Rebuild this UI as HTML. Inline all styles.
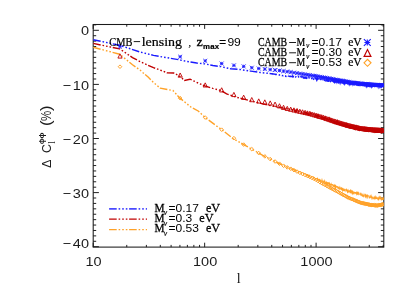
<!DOCTYPE html>
<html><head><meta charset="utf-8"><title>plot</title>
<style>html,body{margin:0;padding:0;background:#fff;overflow:hidden}body{width:415px;height:297px;position:relative;font-family:"Liberation Sans",sans-serif}</style>
</head><body>
<svg width="415" height="297" viewBox="0 0 415 297" style="position:absolute;left:0;top:0;will-change:transform;opacity:0.999">
<rect x="0" y="0" width="415" height="297" fill="#fff"/>
<rect x="93.2" y="24.5" width="290.60" height="222.60" stroke="#1a1a1a" stroke-width="1.05" fill="none"/>
<g stroke="#151515" stroke-width="0.95" fill="none">
<path d="M93.2 246.70h5.7M383.8 246.70h-5.7"/>
<path d="M93.2 241.29h3.0M383.8 241.29h-3.0"/>
<path d="M93.2 235.88h3.0M383.8 235.88h-3.0"/>
<path d="M93.2 230.47h3.0M383.8 230.47h-3.0"/>
<path d="M93.2 225.06h3.0M383.8 225.06h-3.0"/>
<path d="M93.2 219.65h3.0M383.8 219.65h-3.0"/>
<path d="M93.2 214.24h3.0M383.8 214.24h-3.0"/>
<path d="M93.2 208.83h3.0M383.8 208.83h-3.0"/>
<path d="M93.2 203.42h3.0M383.8 203.42h-3.0"/>
<path d="M93.2 198.01h3.0M383.8 198.01h-3.0"/>
<path d="M93.2 192.60h5.7M383.8 192.60h-5.7"/>
<path d="M93.2 187.19h3.0M383.8 187.19h-3.0"/>
<path d="M93.2 181.78h3.0M383.8 181.78h-3.0"/>
<path d="M93.2 176.37h3.0M383.8 176.37h-3.0"/>
<path d="M93.2 170.96h3.0M383.8 170.96h-3.0"/>
<path d="M93.2 165.55h3.0M383.8 165.55h-3.0"/>
<path d="M93.2 160.14h3.0M383.8 160.14h-3.0"/>
<path d="M93.2 154.73h3.0M383.8 154.73h-3.0"/>
<path d="M93.2 149.32h3.0M383.8 149.32h-3.0"/>
<path d="M93.2 143.91h3.0M383.8 143.91h-3.0"/>
<path d="M93.2 138.50h5.7M383.8 138.50h-5.7"/>
<path d="M93.2 133.09h3.0M383.8 133.09h-3.0"/>
<path d="M93.2 127.68h3.0M383.8 127.68h-3.0"/>
<path d="M93.2 122.27h3.0M383.8 122.27h-3.0"/>
<path d="M93.2 116.86h3.0M383.8 116.86h-3.0"/>
<path d="M93.2 111.45h3.0M383.8 111.45h-3.0"/>
<path d="M93.2 106.04h3.0M383.8 106.04h-3.0"/>
<path d="M93.2 100.63h3.0M383.8 100.63h-3.0"/>
<path d="M93.2 95.22h3.0M383.8 95.22h-3.0"/>
<path d="M93.2 89.81h3.0M383.8 89.81h-3.0"/>
<path d="M93.2 84.40h5.7M383.8 84.40h-5.7"/>
<path d="M93.2 78.99h3.0M383.8 78.99h-3.0"/>
<path d="M93.2 73.58h3.0M383.8 73.58h-3.0"/>
<path d="M93.2 68.17h3.0M383.8 68.17h-3.0"/>
<path d="M93.2 62.76h3.0M383.8 62.76h-3.0"/>
<path d="M93.2 57.35h3.0M383.8 57.35h-3.0"/>
<path d="M93.2 51.94h3.0M383.8 51.94h-3.0"/>
<path d="M93.2 46.53h3.0M383.8 46.53h-3.0"/>
<path d="M93.2 41.12h3.0M383.8 41.12h-3.0"/>
<path d="M93.2 35.71h3.0M383.8 35.71h-3.0"/>
<path d="M93.2 30.30h5.7M383.8 30.30h-5.7"/>
<path d="M93.2 24.89h3.0M383.8 24.89h-3.0"/>
<path d="M93.20 247.1v-4.4M93.20 24.5v4.4"/>
<path d="M126.75 247.1v-2.2M126.75 24.5v2.2"/>
<path d="M146.38 247.1v-2.2M146.38 24.5v2.2"/>
<path d="M160.30 247.1v-2.2M160.30 24.5v2.2"/>
<path d="M171.10 247.1v-2.2M171.10 24.5v2.2"/>
<path d="M179.92 247.1v-2.2M179.92 24.5v2.2"/>
<path d="M187.39 247.1v-2.2M187.39 24.5v2.2"/>
<path d="M193.85 247.1v-2.2M193.85 24.5v2.2"/>
<path d="M199.55 247.1v-2.2M199.55 24.5v2.2"/>
<path d="M204.65 247.1v-4.4M204.65 24.5v4.4"/>
<path d="M238.20 247.1v-2.2M238.20 24.5v2.2"/>
<path d="M257.83 247.1v-2.2M257.83 24.5v2.2"/>
<path d="M271.75 247.1v-2.2M271.75 24.5v2.2"/>
<path d="M282.55 247.1v-2.2M282.55 24.5v2.2"/>
<path d="M291.37 247.1v-2.2M291.37 24.5v2.2"/>
<path d="M298.84 247.1v-2.2M298.84 24.5v2.2"/>
<path d="M305.30 247.1v-2.2M305.30 24.5v2.2"/>
<path d="M311.00 247.1v-2.2M311.00 24.5v2.2"/>
<path d="M316.10 247.1v-4.4M316.10 24.5v4.4"/>
<path d="M349.65 247.1v-2.2M349.65 24.5v2.2"/>
<path d="M369.28 247.1v-2.2M369.28 24.5v2.2"/>
<path d="M383.20 247.1v-2.2M383.20 24.5v2.2"/>
</g>
<clipPath id="c"><rect x="93.2" y="24.5" width="290.60" height="222.60"/></clipPath>
<path d="M93.2 39.7 L119.7 45.3 L140.0 52.0 L153.5 55.4 L167.0 57.7 L179.8 59.9 L185.9 61.3 L196.7 63.0 L204.8 63.9 L212.9 65.5 L221.0 66.6 L230.5 68.8 L239.9 69.5 L250.8 71.1 L260.2 72.5 L265.0 73.0 L265.3 73.0 L265.6 73.0 L265.9 73.1 L266.2 73.1 L266.5 73.1 L266.8 73.2 L267.1 73.2 L267.4 73.2 L267.7 73.2 L268.0 73.3 L268.3 73.3 L268.6 73.3 L268.9 73.3 L269.2 73.4 L269.5 73.5 L269.8 73.5 L270.1 73.5 L270.4 73.6 L270.7 73.6 L271.0 73.7 L271.3 73.8 L271.6 73.7 L271.9 73.8 L272.2 73.9 L272.5 73.8 L272.8 73.9 L273.1 74.0 L273.4 74.0 L273.7 74.0 L274.0 74.0 L274.3 74.1 L274.6 74.1 L274.9 74.2 L275.2 74.2 L275.5 74.4 L275.8 74.4 L276.1 74.3 L276.4 74.4 L276.7 74.4 L277.0 74.5 L277.3 74.5 L277.6 74.6 L277.9 74.6 L278.2 74.7 L278.5 74.8 L278.8 74.8 L279.1 75.0 L279.4 74.8 L279.7 75.0 L280.0 75.0 L280.3 75.0 L280.6 75.2 L280.9 75.2 L281.2 75.2 L281.5 75.1 L281.8 75.2 L282.1 75.5 L282.4 75.5 L282.7 75.6 L283.0 75.8 L283.3 75.7 L283.6 75.5 L283.9 75.6 L284.2 75.8 L284.5 75.7 L284.8 76.1 L285.1 76.2 L285.4 76.2 L285.7 76.0 L286.0 76.3 L286.3 75.9 L286.6 76.0 L286.9 76.1 L287.2 76.3 L287.5 76.2 L287.8 76.0 L288.1 76.1 L288.4 76.1 L288.7 76.1 L289.0 76.1 L289.3 76.2 L289.6 76.3 L289.9 76.5 L290.2 76.5 L290.5 76.3 L290.8 76.3 L291.1 76.5 L291.4 76.6 L291.7 76.5 L292.0 76.6 L292.3 76.7 L292.6 76.1 L292.9 76.7 L293.2 76.3 L293.5 76.5 L293.8 76.7 L294.1 76.7 L294.4 76.3 L294.7 76.7 L295.0 76.3 L295.3 76.5 L295.6 76.9 L295.9 76.6 L296.2 76.8 L296.5 76.9 L296.8 77.0 L297.1 77.0 L297.4 76.5 L297.7 76.8 L298.0 76.9 L298.3 76.6 L298.6 77.0 L298.9 77.1 L299.2 77.3 L299.5 77.5 L299.8 76.8 L300.1 76.9 L300.4 77.3 L300.7 76.9 L301.0 77.0 L301.3 77.3 L301.6 77.0 L301.9 77.6 L302.2 77.7 L302.5 77.0 L302.8 77.5 L303.1 77.7 L303.4 77.9 L303.7 77.3 L304.0 77.3 L304.3 77.9 L304.6 78.0 L304.9 77.4 L305.2 77.6 L305.5 77.9 L305.8 78.1 L306.1 77.5 L306.4 78.0 L306.7 78.2 L307.0 77.9 L307.3 77.6 L307.6 77.5 L307.9 77.8 L308.2 78.3 L308.5 77.6 L308.8 77.6 L309.1 78.0 L309.4 77.7 L309.7 77.8 L310.0 77.7 L310.3 78.3 L310.6 78.5 L310.9 78.2 L311.2 78.0 L311.5 78.2 L311.8 78.5 L312.1 79.0 L312.4 79.1 L312.7 78.3 L313.0 78.0 L313.3 79.0 L313.6 79.2 L313.9 78.7 L314.2 79.1 L314.5 79.2 L314.8 79.0 L315.1 79.3 L315.4 78.3 L315.7 78.7 L316.0 78.7 L316.3 78.6 L316.6 79.6 L316.9 78.5 L317.2 79.4 L317.5 78.6 L317.8 79.0 L318.1 79.1 L318.4 78.9 L318.7 79.4 L319.0 79.4 L319.3 79.2 L319.6 79.8 L319.9 79.0 L320.2 79.1 L320.5 79.4 L320.8 79.4 L321.1 79.2 L321.4 80.2 L321.7 80.2 L322.0 79.2 L322.3 79.6 L322.6 79.5 L322.9 79.8 L323.2 79.6 L323.5 80.0 L323.8 80.6 L324.1 79.9 L324.4 80.3 L324.7 80.2 L325.0 80.5 L325.3 79.6 L325.6 80.6 L325.9 80.9 L326.2 80.5 L326.5 80.0 L326.8 80.6 L327.1 80.7 L327.4 80.7 L327.7 80.0 L328.0 81.3 L328.3 81.3 L328.6 80.5 L328.9 80.8 L329.2 80.0 L329.5 81.5 L329.8 81.3 L330.1 81.0 L330.4 81.3 L330.7 80.4 L331.0 80.6 L331.3 80.6 L331.6 81.2 L331.9 80.4 L332.2 81.8 L332.5 81.1 L332.8 81.1 L333.1 80.6 L333.4 81.6 L333.7 81.9 L334.0 81.6 L334.3 81.0 L334.6 81.9 L334.9 80.9 L335.2 82.1 L335.5 81.7 L335.8 81.3 L336.1 81.7 L336.4 81.9 L336.7 81.3 L337.0 82.4 L337.3 81.7 L337.6 82.6 L337.9 82.5 L338.2 81.3 L338.5 82.3 L338.8 81.7 L339.1 82.6 L339.4 82.2 L339.7 82.1 L340.0 82.9 L340.3 81.5 L340.6 82.4 L340.9 82.1 L341.2 81.6 L341.5 82.9 L341.8 82.6 L342.1 83.2 L342.4 82.8 L342.7 82.3 L343.0 83.5 L343.3 82.0 L343.6 81.9 L343.9 83.2 L344.2 82.6 L344.5 82.6 L344.8 83.6 L345.1 82.7 L345.4 83.7 L345.7 83.3 L346.0 82.8 L346.3 82.3 L346.6 82.7 L346.9 84.1 L347.2 83.1 L347.5 82.7 L347.8 83.0 L348.1 84.1 L348.4 82.8 L348.7 84.0 L349.0 82.9 L349.3 84.4 L349.6 83.7 L349.9 82.8 L350.2 84.5 L350.5 83.5 L350.8 84.2 L351.1 83.8 L351.4 83.1 L351.7 83.1 L352.0 83.2 L352.3 83.3 L352.6 83.1 L352.9 83.2 L353.2 84.8 L353.5 83.3 L353.8 84.1 L354.1 83.4 L354.4 83.6 L354.7 84.7 L355.0 85.0 L355.3 84.2 L355.6 83.4 L355.9 85.2 L356.2 83.5 L356.5 84.2 L356.8 84.5 L357.1 85.1 L357.4 85.1 L357.7 84.7 L358.0 84.4 L358.3 85.2 L358.6 85.3 L358.9 85.3 L359.2 85.1 L359.5 84.0 L359.8 84.4 L360.1 84.8 L360.4 84.8 L360.7 85.4 L361.0 84.4 L361.3 85.2 L361.6 84.7 L361.9 85.5 L362.2 84.5 L362.5 85.0 L362.8 84.4 L363.1 84.6 L363.4 85.9 L363.7 84.8 L364.0 85.9 L364.3 85.2 L364.6 84.4 L364.9 85.7 L365.2 84.4 L365.5 85.8 L365.8 84.4 L366.1 85.6 L366.4 84.7 L366.7 85.0 L367.0 86.2 L367.3 85.3 L367.6 85.7 L367.9 85.8 L368.2 84.7 L368.5 86.0 L368.8 86.2 L369.1 84.8 L369.4 85.6 L369.7 85.1 L370.0 85.9 L370.3 84.7 L370.6 85.6 L370.9 86.1 L371.2 86.0 L371.5 84.9 L371.8 86.2 L372.1 85.2 L372.4 86.2 L372.7 85.7 L373.0 85.1 L373.3 86.1 L373.6 86.3 L373.9 86.1 L374.2 86.6 L374.5 85.3 L374.8 85.3 L375.1 85.2 L375.4 85.9 L375.7 85.7 L376.0 85.6 L376.3 85.8 L376.6 85.5 L376.9 85.0 L377.2 85.9 L377.5 85.5 L377.8 85.8 L378.1 86.7 L378.4 85.3 L378.7 86.2 L379.0 86.2 L379.3 85.5 L379.6 85.9 L379.9 86.8 L380.2 85.7 L380.5 86.3 L380.8 86.6 L381.1 85.7 L381.4 86.8 L381.7 86.2 L382.0 86.0 L382.3 86.4 L382.6 85.8 L382.9 86.4 L383.2 85.6 L383.5 86.8 L383.8 86.1" fill="none" stroke="#1a1aff" stroke-width="1.45" stroke-dasharray="7.6 1.9 1.6 2 1.6 2 1.6 1.7" clip-path="url(#c)"/>
<path d="M93.2 43.4 L119.7 48.9 L132.5 57.6 L140.0 61.5 L148.0 65.3 L153.5 67.6 L167.0 72.7 L173.7 73.0 L179.8 76.3 L184.5 80.4 L190.0 79.2 L198.1 83.0 L204.8 85.9 L212.9 88.4 L221.0 90.5 L226.6 93.9 L236.2 97.2 L243.9 99.1 L253.5 101.6 L263.2 104.0 L265.0 104.4 L265.3 104.4 L265.6 104.5 L265.9 104.5 L266.2 104.6 L266.5 104.6 L266.8 104.7 L267.1 104.8 L267.4 104.8 L267.7 104.9 L268.0 105.0 L268.3 105.0 L268.6 105.0 L268.9 105.1 L269.2 105.2 L269.5 105.3 L269.8 105.4 L270.1 105.3 L270.4 105.4 L270.7 105.5 L271.0 105.6 L271.3 105.6 L271.6 105.6 L271.9 105.8 L272.2 105.9 L272.5 105.9 L272.8 106.0 L273.1 106.1 L273.4 106.2 L273.7 105.9 L274.0 106.3 L274.3 106.1 L274.6 106.2 L274.9 106.3 L275.2 106.6 L275.5 106.5 L275.8 106.5 L276.1 106.5 L276.4 106.8 L276.7 106.8 L277.0 106.6 L277.3 106.7 L277.6 106.8 L277.9 106.8 L278.2 107.0 L278.5 106.9 L278.8 107.2 L279.1 107.4 L279.4 107.4 L279.7 107.1 L280.0 107.2 L280.3 107.4 L280.6 107.6 L280.9 107.5 L281.2 107.5 L281.5 107.6 L281.8 107.6 L282.1 108.0 L282.4 108.0 L282.7 107.9 L283.0 108.1 L283.3 108.1 L283.6 108.1 L283.9 108.1 L284.2 108.2 L284.5 108.6 L284.8 108.6 L285.1 108.7 L285.4 108.2 L285.7 108.6 L286.0 108.5 L286.3 108.4 L286.6 108.7 L286.9 108.5 L287.2 108.7 L287.5 109.2 L287.8 109.2 L288.1 109.3 L288.4 108.8 L288.7 109.0 L289.0 108.9 L289.3 109.0 L289.6 109.1 L289.9 109.9 L290.2 109.9 L290.5 109.4 L290.8 109.5 L291.1 110.2 L291.4 109.9 L291.7 109.8 L292.0 110.0 L292.3 109.9 L292.6 110.2 L292.9 110.4 L293.2 110.3 L293.5 110.7 L293.8 110.0 L294.1 110.6 L294.4 111.0 L294.7 110.3 L295.0 110.7 L295.3 110.9 L295.6 110.6 L295.9 111.4 L296.2 110.9 L296.5 111.0 L296.8 111.5 L297.1 110.6 L297.4 111.6 L297.7 110.9 L298.0 111.2 L298.3 111.4 L298.6 111.5 L298.9 111.0 L299.2 111.4 L299.5 111.5 L299.8 112.3 L300.1 112.3 L300.4 112.0 L300.7 112.5 L301.0 112.5 L301.3 111.9 L301.6 111.7 L301.9 112.4 L302.2 112.1 L302.5 111.7 L302.8 113.1 L303.1 113.1 L303.4 112.6 L303.7 112.8 L304.0 112.9 L304.3 113.3 L304.6 112.8 L304.9 113.0 L305.2 112.6 L305.5 112.7 L305.8 113.1 L306.1 112.8 L306.4 112.6 L306.7 113.1 L307.0 113.7 L307.3 113.1 L307.6 114.0 L307.9 113.9 L308.2 113.9 L308.5 114.3 L308.8 113.1 L309.1 113.3 L309.4 114.5 L309.7 114.6 L310.0 113.4 L310.3 114.5 L310.6 113.4 L310.9 113.7 L311.2 113.7 L311.5 114.1 L311.8 114.3 L312.1 115.3 L312.4 114.6 L312.7 114.2 L313.0 114.5 L313.3 114.1 L313.6 114.2 L313.9 115.0 L314.2 115.2 L314.5 114.9 L314.8 115.2 L315.1 114.8 L315.4 115.8 L315.7 115.4 L316.0 115.1 L316.3 115.8 L316.6 115.4 L316.9 115.6 L317.2 115.4 L317.5 116.7 L317.8 115.8 L318.1 117.1 L318.4 116.2 L318.7 115.8 L319.0 117.0 L319.3 117.1 L319.6 117.5 L319.9 116.1 L320.2 117.5 L320.5 117.7 L320.8 116.7 L321.1 117.1 L321.4 117.5 L321.7 116.8 L322.0 118.2 L322.3 117.9 L322.6 118.3 L322.9 117.6 L323.2 117.8 L323.5 117.3 L323.8 117.6 L324.1 118.5 L324.4 119.1 L324.7 117.6 L325.0 117.4 L325.3 117.6 L325.6 118.5 L325.9 119.3 L326.2 118.2 L326.5 118.8 L326.8 119.0 L327.1 119.8 L327.4 118.5 L327.7 118.2 L328.0 119.4 L328.3 119.2 L328.6 119.2 L328.9 120.3 L329.2 120.2 L329.5 119.0 L329.8 120.1 L330.1 120.8 L330.4 121.2 L330.7 119.2 L331.0 121.1 L331.3 119.5 L331.6 121.1 L331.9 121.0 L332.2 121.9 L332.5 121.3 L332.8 120.0 L333.1 121.5 L333.4 120.7 L333.7 122.1 L334.0 120.3 L334.3 121.1 L334.6 122.1 L334.9 120.9 L335.2 122.2 L335.5 122.4 L335.8 122.6 L336.1 123.1 L336.4 122.0 L336.7 121.5 L337.0 121.9 L337.3 122.3 L337.6 121.5 L337.9 123.3 L338.2 121.7 L338.5 121.8 L338.8 124.1 L339.1 123.9 L339.4 122.6 L339.7 122.9 L340.0 124.3 L340.3 123.8 L340.6 123.0 L340.9 123.6 L341.2 124.7 L341.5 122.6 L341.8 125.3 L342.1 124.3 L342.4 123.4 L342.7 125.1 L343.0 123.3 L343.3 124.3 L343.6 124.8 L343.9 124.0 L344.2 125.8 L344.5 125.4 L344.8 124.1 L345.1 124.2 L345.4 124.0 L345.7 125.4 L346.0 124.5 L346.3 125.6 L346.6 126.4 L346.9 126.6 L347.2 124.7 L347.5 125.4 L347.8 125.7 L348.1 125.7 L348.4 125.9 L348.7 126.1 L349.0 126.9 L349.3 125.8 L349.6 126.0 L349.9 126.2 L350.2 125.7 L350.5 127.0 L350.8 126.5 L351.1 127.9 L351.4 127.7 L351.7 126.2 L352.0 126.3 L352.3 127.8 L352.6 127.3 L352.9 126.0 L353.2 127.6 L353.5 127.1 L353.8 128.2 L354.1 128.2 L354.4 128.7 L354.7 128.2 L355.0 128.8 L355.3 127.3 L355.6 127.5 L355.9 126.8 L356.2 129.0 L356.5 127.2 L356.8 128.3 L357.1 128.3 L357.4 129.2 L357.7 128.1 L358.0 127.6 L358.3 128.3 L358.6 127.5 L358.9 128.2 L359.2 129.1 L359.5 127.7 L359.8 130.2 L360.1 129.1 L360.4 128.6 L360.7 130.0 L361.0 128.3 L361.3 128.8 L361.6 130.4 L361.9 128.6 L362.2 129.9 L362.5 128.3 L362.8 129.5 L363.1 129.9 L363.4 128.7 L363.7 129.1 L364.0 129.7 L364.3 129.8 L364.6 128.7 L364.9 129.4 L365.2 131.0 L365.5 129.2 L365.8 130.5 L366.1 129.0 L366.4 129.7 L366.7 129.9 L367.0 130.1 L367.3 130.5 L367.6 130.7 L367.9 130.5 L368.2 130.8 L368.5 131.0 L368.8 129.6 L369.1 131.0 L369.4 130.2 L369.7 129.5 L370.0 129.4 L370.3 130.9 L370.6 130.6 L370.9 129.2 L371.2 130.6 L371.5 129.2 L371.8 130.1 L372.1 130.6 L372.4 130.9 L372.7 129.6 L373.0 129.4 L373.3 130.8 L373.6 131.4 L373.9 131.4 L374.2 130.3 L374.5 130.8 L374.8 131.2 L375.1 131.6 L375.4 130.6 L375.7 131.7 L376.0 130.2 L376.3 130.0 L376.6 130.2 L376.9 131.3 L377.2 131.7 L377.5 130.7 L377.8 131.3 L378.1 129.8 L378.4 130.8 L378.7 130.6 L379.0 130.6 L379.3 130.0 L379.6 131.2 L379.9 131.3 L380.2 131.2 L380.5 131.5 L380.8 130.8 L381.1 131.8 L381.4 131.1 L381.7 131.9 L382.0 130.7 L382.3 131.5 L382.6 130.2 L382.9 129.9 L383.2 132.1 L383.5 130.7 L383.8 129.8" fill="none" stroke="#c00000" stroke-width="1.4" stroke-dasharray="7.6 1.9 1.6 2 1.6 2 1.6 1.7" clip-path="url(#c)"/>
<path d="M93.2 47.3 L119.7 54.2 L132.5 64.8 L140.0 70.0 L143.3 73.0 L148.1 77.0 L153.5 82.5 L160.2 88.2 L172.9 90.5 L179.7 97.9 L190.6 106.8 L198.2 111.0 L205.0 117.4 L215.9 125.5 L221.4 129.4 L232.7 138.3 L242.8 144.1 L250.4 148.4 L257.5 152.4 L265.0 156.5 L265.3 156.6 L265.6 156.8 L265.9 157.0 L266.2 157.1 L266.5 157.2 L266.8 157.4 L267.1 157.5 L267.4 157.7 L267.7 157.9 L268.0 158.0 L268.3 158.1 L268.6 158.3 L268.9 158.5 L269.2 158.6 L269.5 158.7 L269.8 158.8 L270.1 159.1 L270.4 159.2 L270.7 159.3 L271.0 159.5 L271.3 159.5 L271.6 159.9 L271.9 160.0 L272.2 160.2 L272.5 160.3 L272.8 160.4 L273.1 160.6 L273.4 160.6 L273.7 160.9 L274.0 160.9 L274.3 161.1 L274.6 161.4 L274.9 161.4 L275.2 161.7 L275.5 161.7 L275.8 161.8 L276.1 161.9 L276.4 162.0 L276.7 162.3 L277.0 162.6 L277.3 162.5 L277.6 162.7 L277.9 163.1 L278.2 163.0 L278.5 163.4 L278.8 163.5 L279.1 163.5 L279.4 163.7 L279.7 163.6 L280.0 163.9 L280.3 164.2 L280.6 164.1 L280.9 164.2 L281.2 164.3 L281.5 164.5 L281.8 164.7 L282.1 165.1 L282.4 165.1 L282.7 165.3 L283.0 165.3 L283.3 165.5 L283.6 165.7 L283.9 166.0 L284.2 165.8 L284.5 166.1 L284.8 166.4 L285.1 166.7 L285.4 166.4 L285.7 166.6 L286.0 166.8 L286.3 166.7 L286.6 167.1 L286.9 167.4 L287.2 167.1 L287.5 167.3 L287.8 167.2 L288.1 167.6 L288.4 168.0 L288.7 167.8 L289.0 167.7 L289.3 167.9 L289.6 168.2 L289.9 168.5 L290.2 168.3 L290.5 168.4 L290.8 168.8 L291.1 168.4 L291.4 169.1 L291.7 168.9 L292.0 168.9 L292.3 169.4 L292.6 169.1 L292.9 169.2 L293.2 169.4 L293.5 169.8 L293.8 169.5 L294.1 169.9 L294.4 169.9 L294.7 170.3 L295.0 170.1 L295.3 170.7 L295.6 171.0 L295.9 170.6 L296.2 170.7 L296.5 171.1 L296.8 171.3 L297.1 170.9 L297.4 171.5 L297.7 171.8 L298.0 171.9 L298.3 171.7 L298.6 172.1 L298.9 172.0 L299.2 171.8 L299.5 172.0 L299.8 172.4 L300.1 172.5 L300.4 172.8 L300.7 172.9 L301.0 172.5 L301.3 172.8 L301.6 173.3 L301.9 173.1 L302.2 173.0 L302.5 173.8 L302.8 173.4 L303.1 173.4 L303.4 173.7 L303.7 173.6 L304.0 173.7 L304.3 174.3 L304.6 174.5 L304.9 174.2 L305.2 174.1 L305.5 174.5 L305.8 174.6 L306.1 174.7 L306.4 174.6 L306.7 175.3 L307.0 174.8 L307.3 174.8 L307.6 175.6 L307.9 175.8 L308.2 175.4 L308.5 175.4 L308.8 176.0 L309.1 176.5 L309.4 175.8 L309.7 176.3 L310.0 176.1 L310.3 176.8 L310.6 176.6 L310.9 176.6 L311.2 177.1 L311.5 177.0 L311.8 176.7 L312.1 177.1 L312.4 177.9 L312.7 177.9 L313.0 177.6 L313.3 177.9 L313.6 177.4 L313.9 177.9 L314.2 178.6 L314.5 177.8 L314.8 179.0 L315.1 178.9 L315.4 178.8 L315.7 178.5 L316.0 178.3 L316.3 178.7 L316.6 179.4 L316.9 179.1 L317.2 179.7 L317.5 179.0 L317.8 180.0 L318.1 180.2 L318.4 180.1 L318.7 179.5 L319.0 179.6 L319.3 179.5 L319.6 179.6 L319.9 180.7 L320.2 180.5 L320.5 181.0 L320.8 180.4 L321.1 180.6 L321.4 181.6 L321.7 181.8 L322.0 180.6 L322.3 181.7 L322.6 181.5 L322.9 180.8 L323.2 181.9 L323.5 181.5 L323.8 181.7 L324.1 182.8 L324.4 182.6 L324.7 181.6 L325.0 182.7 L325.3 181.8 L325.6 183.3 L325.9 183.0 L326.2 183.1 L326.5 182.3 L326.8 182.5 L327.1 183.3 L327.4 183.2 L327.7 184.1 L328.0 183.3 L328.3 183.6 L328.6 183.3 L328.9 184.0 L329.2 184.9 L329.5 183.9 L329.8 184.9 L330.1 183.9 L330.4 185.3 L330.7 184.8 L331.0 184.2 L331.3 185.5 L331.6 185.8 L331.9 184.6 L332.2 184.7 L332.5 185.1 L332.8 185.7 L333.1 186.6 L333.4 186.5 L333.7 185.7 L334.0 185.3 L334.3 186.4 L334.6 186.5 L334.9 186.0 L335.2 186.8 L335.5 187.7 L335.8 186.2 L336.1 186.7 L336.4 187.8 L336.7 186.6 L337.0 186.7 L337.3 186.9 L337.6 188.1 L337.9 187.0 L338.2 187.1 L338.5 188.2 L338.8 188.6 L339.1 188.7 L339.4 188.2 L339.7 189.3 L340.0 187.9 L340.3 188.6 L340.6 188.5 L340.9 188.9 L341.2 188.3 L341.5 188.3 L341.8 190.1 L342.1 188.8 L342.4 189.3 L342.7 190.2 L343.0 189.1 L343.3 189.3 L343.6 189.7 L343.9 188.8 L344.2 188.8 L344.5 190.1 L344.8 189.7 L345.1 189.2 L345.4 189.7 L345.7 190.6 L346.0 190.8 L346.3 190.4 L346.6 189.9 L346.9 191.2 L347.2 190.1 L347.5 191.2 L347.8 190.1 L348.1 191.8 L348.4 191.5 L348.7 191.1 L349.0 191.0 L349.3 191.4 L349.6 191.6 L349.9 191.5 L350.2 191.9 L350.5 190.8 L350.8 191.5 L351.1 192.3 L351.4 191.7 L351.7 192.9 L352.0 192.1 L352.3 191.7 L352.6 193.0 L352.9 192.1 L353.2 192.4 L353.5 192.7 L353.8 193.2 L354.1 192.0 L354.4 193.5 L354.7 192.9 L355.0 192.6 L355.3 192.6 L355.6 194.0 L355.9 194.0 L356.2 193.3 L356.5 193.0 L356.8 194.4 L357.1 192.5 L357.4 192.7 L357.7 193.6 L358.0 193.9 L358.3 192.9 L358.6 193.3 L358.9 193.2 L359.2 193.6 L359.5 193.6 L359.8 193.5 L360.1 193.6 L360.4 194.2 L360.7 193.8 L361.0 195.2 L361.3 194.5 L361.6 194.0 L361.9 195.2 L362.2 195.6 L362.5 194.8 L362.8 194.2 L363.1 195.5 L363.4 195.8 L363.7 196.2 L364.0 195.9 L364.3 195.8 L364.6 195.4 L364.9 195.2 L365.2 194.9 L365.5 196.5 L365.8 196.0 L366.1 195.6 L366.4 195.3 L366.7 195.7 L367.0 196.7 L367.3 195.7 L367.6 195.4 L367.9 196.1 L368.2 196.1 L368.5 196.9 L368.8 196.7 L369.1 196.6 L369.4 197.6 L369.7 197.4 L370.0 196.1 L370.3 196.4 L370.6 196.8 L370.9 196.2 L371.2 197.6 L371.5 197.7 L371.8 196.8 L372.1 198.1 L372.4 197.4 L372.7 196.9 L373.0 197.7 L373.3 197.9 L373.6 198.0 L373.9 198.6 L374.2 198.6 L374.5 197.6 L374.8 197.7 L375.1 197.0 L375.4 197.8 L375.7 197.4 L376.0 197.4 L376.3 198.8 L376.6 197.3 L376.9 197.5 L377.2 198.6 L377.5 198.4 L377.8 198.2 L378.1 199.0 L378.4 197.9 L378.7 197.8 L379.0 198.5 L379.3 197.7 L379.6 198.9 L379.9 199.4 L380.2 199.2 L380.5 199.4 L380.8 197.8 L381.1 198.5 L381.4 199.5 L381.7 199.4 L382.0 198.9 L382.3 199.1 L382.6 198.3 L382.9 198.3 L383.2 198.0 L383.5 199.7 L383.8 198.5" fill="none" stroke="#ffa228" stroke-width="1.4" stroke-dasharray="7.6 1.9 1.6 2 1.6 2 1.6 1.7" clip-path="url(#c)"/>
<path d="M322.0 181.4 L322.3 181.1 L322.6 181.6 L322.9 181.6 L323.2 181.4 L323.5 181.9 L323.8 182.1 L324.1 182.2 L324.4 182.3 L324.7 182.4 L325.0 182.6 L325.3 182.5 L325.6 183.0 L325.9 182.8 L326.2 182.7 L326.5 183.4 L326.8 183.0 L327.1 183.2 L327.4 183.6 L327.7 183.8 L328.0 183.5 L328.3 183.4 L328.6 184.0 L328.9 184.1 L329.2 184.4 L329.5 184.1 L329.8 184.7 L330.1 184.8 L330.4 185.0 L330.7 185.0 L331.0 185.1 L331.3 185.1 L331.6 185.5 L331.9 185.0 L332.2 185.6 L332.5 185.9 L332.8 186.0 L333.1 185.3 L333.4 185.7 L333.7 186.5 L334.0 186.5 L334.3 185.8 L334.6 186.4 L334.9 186.9 L335.2 187.1 L335.5 186.8 L335.8 186.3 L336.1 186.6 L336.4 186.5 L336.7 186.8 L337.0 186.7 L337.3 187.8 L337.6 187.9 L337.9 187.7 L338.2 188.4 L338.5 187.4 L338.8 187.6 L339.1 188.4 L339.4 188.4 L339.7 187.9 L340.0 189.3 L340.3 188.9 L340.6 188.9 L340.9 188.7 L341.2 189.1 L341.5 188.3 L341.8 188.8 L342.1 189.4 L342.4 189.4 L342.7 189.4 L343.0 188.7 L343.3 189.2 L343.6 190.4 L343.9 190.4 L344.2 190.3 L344.5 189.2 L344.8 189.3 L345.1 189.6 L345.4 190.7 L345.7 189.7 L346.0 189.9 L346.3 190.0 L346.6 190.8 L346.9 190.6 L347.2 191.2 L347.5 190.0 L347.8 190.1 L348.1 191.4 L348.4 190.4 L348.7 191.4 L349.0 191.3 L349.3 190.8 L349.6 190.9 L349.9 191.8 L350.2 190.7 L350.5 192.3 L350.8 190.9 L351.1 191.2 L351.4 192.1 L351.7 191.3 L352.0 192.8 L352.3 192.0 L352.6 191.5 L352.9 191.7 L353.2 192.4 L353.5 193.0 L353.8 192.1 L354.1 192.5 L354.4 192.8 L354.7 193.0 L355.0 193.2 L355.3 192.7 L355.6 192.8 L355.9 193.7 L356.2 193.9 L356.5 193.2 L356.8 194.2 L357.1 193.0 L357.4 194.1 L357.7 194.3 L358.0 193.9 L358.3 194.2 L358.6 193.2 L358.9 194.6 L359.2 194.4 L359.5 194.3 L359.8 194.4 L360.1 193.8 L360.4 195.0 L360.7 194.6 L361.0 194.8 L361.3 194.2 L361.6 195.0 L361.9 194.5 L362.2 195.4 L362.5 194.3 L362.8 194.6 L363.1 194.8 L363.4 195.2 L363.7 196.0 L364.0 194.7 L364.3 195.7 L364.6 194.9 L364.9 195.5 L365.2 195.5 L365.5 195.3 L365.8 195.9 L366.1 195.7 L366.4 195.7 L366.7 196.3 L367.0 195.8 L367.3 197.0 L367.6 195.9 L367.9 197.2 L368.2 195.9 L368.5 197.2 L368.8 195.9 L369.1 195.8 L369.4 196.1 L369.7 197.1 L370.0 196.4 L370.3 196.5 L370.6 197.2 L370.9 196.3 L371.2 197.1 L371.5 197.0 L371.8 196.7 L372.1 197.9 L372.4 197.1 L372.7 197.1 L373.0 197.8 L373.3 198.1 L373.6 197.2 L373.9 197.1 L374.2 198.5 L374.5 197.7 L374.8 197.9 L375.1 197.9 L375.4 198.5 L375.7 197.9 L376.0 198.5 L376.3 198.2 L376.6 197.5 L376.9 198.3 L377.2 198.8 L377.5 198.4 L377.8 198.2 L378.1 197.6 L378.4 198.7 L378.7 198.2 L379.0 198.2 L379.3 198.3 L379.6 198.4 L379.9 198.3 L380.2 198.2 L380.5 198.5 L380.8 197.9 L381.1 198.2 L381.4 198.6 L381.7 199.3 L382.0 198.6 L382.3 198.8 L382.6 199.4 L382.9 199.3 L383.2 199.2 L383.5 199.1 L383.8 199.1" fill="none" stroke="#ffa228" stroke-width="1.1" stroke-opacity="0.65" clip-path="url(#c)"/>
<path d="M325.0 118.1 L325.3 118.2 L325.6 118.2 L325.9 118.3 L326.2 118.9 L326.5 119.0 L326.8 118.5 L327.1 119.4 L327.4 119.1 L327.7 119.3 L328.0 118.9 L328.3 119.9 L328.6 119.1 L328.9 119.4 L329.2 119.8 L329.5 119.9 L329.8 120.1 L330.1 120.7 L330.4 119.6 L330.7 120.6 L331.0 120.3 L331.3 121.0 L331.6 120.9 L331.9 121.2 L332.2 121.4 L332.5 121.4 L332.8 120.5 L333.1 121.2 L333.4 121.7 L333.7 121.8 L334.0 122.2 L334.3 121.4 L334.6 120.8 L334.9 122.2 L335.2 121.5 L335.5 122.3 L335.8 121.2 L336.1 121.9 L336.4 122.5 L336.7 121.6 L337.0 122.1 L337.3 121.8 L337.6 123.5 L337.9 123.3 L338.2 123.1 L338.5 123.0 L338.8 124.1 L339.1 122.6 L339.4 123.7 L339.7 122.4 L340.0 123.7 L340.3 122.8 L340.6 122.4 L340.9 124.7 L341.2 123.3 L341.5 125.1 L341.8 124.5 L342.1 124.5 L342.4 124.6 L342.7 125.6 L343.0 123.7 L343.3 125.8 L343.6 124.1 L343.9 123.6 L344.2 125.9 L344.5 123.8 L344.8 124.9 L345.1 125.9 L345.4 124.6 L345.7 125.8 L346.0 125.7 L346.3 126.0 L346.6 124.6 L346.9 126.2 L347.2 126.6 L347.5 124.9 L347.8 127.1 L348.1 127.2 L348.4 125.7 L348.7 127.4 L349.0 127.4 L349.3 125.3 L349.6 127.1 L349.9 127.7 L350.2 127.4 L350.5 125.7 L350.8 126.5 L351.1 127.0 L351.4 126.5 L351.7 126.6 L352.0 126.0 L352.3 125.8 L352.6 126.7 L352.9 127.0 L353.2 127.5 L353.5 128.6 L353.8 126.4 L354.1 127.1 L354.4 128.6 L354.7 128.5 L355.0 126.7 L355.3 128.3 L355.6 126.8 L355.9 129.1 L356.2 127.4 L356.5 128.4 L356.8 128.1 L357.1 128.3 L357.4 127.6 L357.7 128.0 L358.0 127.9 L358.3 128.9 L358.6 128.4 L358.9 128.9 L359.2 128.9 L359.5 129.3 L359.8 130.2 L360.1 129.1 L360.4 129.2 L360.7 129.4 L361.0 129.3 L361.3 129.0 L361.6 128.6 L361.9 129.4 L362.2 128.7 L362.5 129.8 L362.8 130.4 L363.1 130.2 L363.4 130.2 L363.7 128.8 L364.0 128.3 L364.3 128.8 L364.6 129.8 L364.9 128.7 L365.2 128.6 L365.5 131.0 L365.8 129.4 L366.1 128.6 L366.4 129.8 L366.7 130.4 L367.0 129.8 L367.3 128.9 L367.6 130.0 L367.9 128.9 L368.2 130.6 L368.5 131.2 L368.8 128.9 L369.1 130.3 L369.4 131.0 L369.7 130.5 L370.0 129.3 L370.3 129.1 L370.6 130.2 L370.9 129.1 L371.2 131.2 L371.5 130.4 L371.8 129.9 L372.1 131.1 L372.4 129.7 L372.7 130.5 L373.0 130.5 L373.3 129.5 L373.6 131.4 L373.9 131.1 L374.2 129.8 L374.5 130.5 L374.8 130.2 L375.1 131.8 L375.4 131.1 L375.7 131.8 L376.0 131.4 L376.3 131.5 L376.6 130.2 L376.9 131.6 L377.2 130.3 L377.5 131.6 L377.8 131.3 L378.1 130.8 L378.4 129.9 L378.7 131.1 L379.0 131.1 L379.3 131.3 L379.6 129.7 L379.9 130.2 L380.2 131.0 L380.5 131.8 L380.8 130.2 L381.1 131.9 L381.4 132.1 L381.7 129.8 L382.0 131.5 L382.3 130.7 L382.6 130.0 L382.9 130.2 L383.2 130.6 L383.5 129.7 L383.8 131.5" fill="none" stroke="#c00000" stroke-width="1.1" stroke-opacity="0.6" clip-path="url(#c)"/>
<path d="M330.0 80.8 L330.3 80.8 L330.6 81.1 L330.9 81.2 L331.2 80.9 L331.5 80.9 L331.8 81.1 L332.1 81.0 L332.4 81.4 L332.7 81.0 L333.0 80.9 L333.3 80.9 L333.6 81.1 L333.9 81.0 L334.2 81.7 L334.5 81.6 L334.8 81.6 L335.1 81.9 L335.4 81.7 L335.7 81.8 L336.0 81.3 L336.3 81.5 L336.6 81.9 L336.9 82.1 L337.2 81.6 L337.5 81.8 L337.8 81.7 L338.1 81.7 L338.4 82.1 L338.7 82.5 L339.0 82.7 L339.3 82.2 L339.6 81.6 L339.9 81.9 L340.2 82.5 L340.5 82.9 L340.8 81.9 L341.1 82.8 L341.4 83.0 L341.7 81.9 L342.0 83.1 L342.3 82.7 L342.6 83.1 L342.9 82.9 L343.2 83.0 L343.5 83.3 L343.8 83.2 L344.1 82.7 L344.4 82.7 L344.7 83.7 L345.0 82.6 L345.3 82.8 L345.6 82.4 L345.9 82.8 L346.2 83.3 L346.5 82.6 L346.8 83.1 L347.1 83.4 L347.4 83.1 L347.7 83.8 L348.0 83.4 L348.3 83.1 L348.6 83.9 L348.9 83.6 L349.2 83.5 L349.5 83.0 L349.8 84.5 L350.1 83.1 L350.4 83.5 L350.7 83.9 L351.0 84.5 L351.3 83.4 L351.6 83.1 L351.9 84.2 L352.2 84.7 L352.5 83.8 L352.8 84.9 L353.1 83.7 L353.4 84.7 L353.7 83.2 L354.0 84.4 L354.3 84.8 L354.6 83.8 L354.9 84.8 L355.2 84.4 L355.5 83.9 L355.8 83.5 L356.1 84.6 L356.4 84.1 L356.7 84.5 L357.0 83.9 L357.3 83.6 L357.6 83.8 L357.9 84.8 L358.2 83.9 L358.5 84.2 L358.8 84.8 L359.1 84.3 L359.4 84.7 L359.7 84.6 L360.0 85.3 L360.3 84.6 L360.6 84.4 L360.9 85.7 L361.2 84.3 L361.5 85.2 L361.8 85.2 L362.1 84.7 L362.4 85.5 L362.7 85.5 L363.0 85.1 L363.3 84.8 L363.6 84.4 L363.9 85.8 L364.2 86.0 L364.5 84.8 L364.8 84.9 L365.1 85.5 L365.4 85.7 L365.7 85.9 L366.0 85.8 L366.3 85.6 L366.6 85.5 L366.9 84.5 L367.2 85.3 L367.5 85.7 L367.8 85.0 L368.1 84.9 L368.4 85.3 L368.7 85.5 L369.0 84.6 L369.3 85.9 L369.6 85.9 L369.9 85.0 L370.2 85.1 L370.5 85.0 L370.8 85.4 L371.1 86.4 L371.4 85.4 L371.7 86.4 L372.0 85.1 L372.3 85.2 L372.6 85.7 L372.9 85.1 L373.2 85.0 L373.5 86.0 L373.8 85.5 L374.1 86.1 L374.4 85.3 L374.7 85.4 L375.0 86.5 L375.3 86.0 L375.6 85.2 L375.9 85.7 L376.2 85.2 L376.5 85.1 L376.8 86.0 L377.1 85.2 L377.4 85.4 L377.7 85.1 L378.0 85.2 L378.3 85.8 L378.6 85.3 L378.9 85.6 L379.2 85.8 L379.5 85.4 L379.8 85.3 L380.1 85.3 L380.4 86.7 L380.7 85.7 L381.0 85.9 L381.3 86.4 L381.6 86.5 L381.9 86.3 L382.2 86.7 L382.5 86.0 L382.8 85.4 L383.1 86.2 L383.4 85.9 L383.7 86.6" fill="none" stroke="#1a1aff" stroke-width="1.1" stroke-opacity="0.6" clip-path="url(#c)"/>
<g clip-path="url(#c)">
<path d="M118.33 46.60h3.36M120.01 44.92v3.36M118.01 44.61l3.99 3.99M118.01 48.60l3.99 -3.99" stroke="#1a1aff" stroke-width="0.85" fill="none"/>
<path d="M178.49 56.74h3.36M180.17 55.06v3.36M178.17 54.75l3.99 3.99M178.17 58.74l3.99 -3.99" stroke="#1a1aff" stroke-width="0.85" fill="none"/>
<path d="M203.55 60.85h3.36M205.23 59.17v3.36M203.23 58.86l3.99 3.99M203.23 62.85l3.99 -3.99" stroke="#1a1aff" stroke-width="0.85" fill="none"/>
<path d="M219.98 63.57h3.36M221.66 61.89v3.36M219.66 61.57l3.99 3.99M219.66 65.56l3.99 -3.99" stroke="#1a1aff" stroke-width="0.85" fill="none"/>
<path d="M232.22 65.37h3.36M233.90 63.69v3.36M231.91 63.38l3.99 3.99M231.91 67.37l3.99 -3.99" stroke="#1a1aff" stroke-width="0.85" fill="none"/>
<path d="M241.98 66.41h3.36M243.66 64.73v3.36M241.67 64.42l3.99 3.99M241.67 68.41l3.99 -3.99" stroke="#1a1aff" stroke-width="0.85" fill="none"/>
<path d="M250.10 67.72h3.36M251.78 66.04v3.36M249.79 65.72l3.99 3.99M249.79 69.71l3.99 -3.99" stroke="#1a1aff" stroke-width="0.85" fill="none"/>
<path d="M257.06 68.51h3.36M258.74 66.83v3.36M256.74 66.52l3.99 3.99M256.74 70.51l3.99 -3.99" stroke="#1a1aff" stroke-width="0.85" fill="none"/>
<path d="M263.13 69.08h3.36M264.81 67.40v3.36M262.82 67.09l3.99 3.99M262.82 71.08l3.99 -3.99" stroke="#1a1aff" stroke-width="0.85" fill="none"/>
<path d="M268.53 69.60h3.36M270.21 67.92v3.36M268.22 67.61l3.99 3.99M268.22 71.60l3.99 -3.99" stroke="#1a1aff" stroke-width="0.85" fill="none"/>
<path d="M273.39 70.04h3.36M275.07 68.36v3.36M273.07 68.05l3.99 3.99M273.07 72.04l3.99 -3.99" stroke="#1a1aff" stroke-width="0.85" fill="none"/>
<path d="M277.80 70.55h3.36M279.48 68.87v3.36M277.49 68.55l3.99 3.99M277.49 72.54l3.99 -3.99" stroke="#1a1aff" stroke-width="0.85" fill="none"/>
<path d="M281.85 71.14h3.36M283.53 69.46v3.36M281.53 69.15l3.99 3.99M281.53 73.14l3.99 -3.99" stroke="#1a1aff" stroke-width="0.85" fill="none"/>
<path d="M285.58 71.65h3.36M287.26 69.97v3.36M285.27 69.66l3.99 3.99M285.27 73.65l3.99 -3.99" stroke="#1a1aff" stroke-width="0.85" fill="none"/>
<path d="M289.05 72.12h3.36M290.73 70.44v3.36M288.73 70.13l3.99 3.99M288.73 74.12l3.99 -3.99" stroke="#1a1aff" stroke-width="0.85" fill="none"/>
<path d="M292.28 72.67h3.36M293.96 70.99v3.36M291.96 70.67l3.99 3.99M291.96 74.66l3.99 -3.99" stroke="#1a1aff" stroke-width="0.85" fill="none"/>
<path d="M295.31 73.16h3.36M296.99 71.48v3.36M294.99 71.17l3.99 3.99M294.99 75.16l3.99 -3.99" stroke="#1a1aff" stroke-width="0.85" fill="none"/>
<path d="M298.16 73.61h3.36M299.84 71.93v3.36M297.85 71.62l3.99 3.99M297.85 75.61l3.99 -3.99" stroke="#1a1aff" stroke-width="0.85" fill="none"/>
<path d="M300.86 74.03h3.36M302.54 72.35v3.36M300.54 72.04l3.99 3.99M300.54 76.03l3.99 -3.99" stroke="#1a1aff" stroke-width="0.85" fill="none"/>
<path d="M303.41 74.43h3.36M305.09 72.75v3.36M303.09 72.44l3.99 3.99M303.09 76.43l3.99 -3.99" stroke="#1a1aff" stroke-width="0.85" fill="none"/>
<path d="M305.83 74.81h3.36M307.51 73.13v3.36M305.52 72.82l3.99 3.99M305.52 76.81l3.99 -3.99" stroke="#1a1aff" stroke-width="0.85" fill="none"/>
<path d="M308.14 75.17h3.36M309.82 73.49v3.36M307.82 73.18l3.99 3.99M307.82 77.17l3.99 -3.99" stroke="#1a1aff" stroke-width="0.85" fill="none"/>
<path d="M310.34 75.52h3.36M312.02 73.84v3.36M310.03 73.53l3.99 3.99M310.03 77.52l3.99 -3.99" stroke="#1a1aff" stroke-width="0.85" fill="none"/>
<path d="M312.45 75.85h3.36M314.13 74.17v3.36M312.13 73.86l3.99 3.99M312.13 77.85l3.99 -3.99" stroke="#1a1aff" stroke-width="0.85" fill="none"/>
<path d="M314.47 76.17h3.36M316.15 74.49v3.36M314.15 74.17l3.99 3.99M314.15 78.16l3.99 -3.99" stroke="#1a1aff" stroke-width="0.85" fill="none"/>
<path d="M316.41 76.49h3.36M318.09 74.81v3.36M316.09 74.50l3.99 3.99M316.09 78.49l3.99 -3.99" stroke="#1a1aff" stroke-width="0.85" fill="none"/>
<path d="M318.27 76.82h3.36M319.95 75.14v3.36M317.96 74.83l3.99 3.99M317.96 78.82l3.99 -3.99" stroke="#1a1aff" stroke-width="0.85" fill="none"/>
<path d="M320.06 77.14h3.36M321.74 75.46v3.36M319.75 75.14l3.99 3.99M319.75 79.13l3.99 -3.99" stroke="#1a1aff" stroke-width="0.85" fill="none"/>
<path d="M321.80 77.45h3.36M323.48 75.77v3.36M321.48 75.45l3.99 3.99M321.48 79.44l3.99 -3.99" stroke="#1a1aff" stroke-width="0.85" fill="none"/>
<path d="M323.47 77.74h3.36M325.15 76.06v3.36M323.15 75.75l3.99 3.99M323.15 79.74l3.99 -3.99" stroke="#1a1aff" stroke-width="0.85" fill="none"/>
<path d="M325.08 78.03h3.36M326.76 76.35v3.36M324.77 76.03l3.99 3.99M324.77 80.02l3.99 -3.99" stroke="#1a1aff" stroke-width="0.85" fill="none"/>
<path d="M326.64 78.30h3.36M328.32 76.62v3.36M326.33 76.31l3.99 3.99M326.33 80.30l3.99 -3.99" stroke="#1a1aff" stroke-width="0.85" fill="none"/>
<path d="M328.16 78.57h3.36M329.84 76.89v3.36M327.84 76.58l3.99 3.99M327.84 80.57l3.99 -3.99" stroke="#1a1aff" stroke-width="0.85" fill="none"/>
<path d="M329.63 78.86h3.36M331.31 77.18v3.36M329.31 76.87l3.99 3.99M329.31 80.86l3.99 -3.99" stroke="#1a1aff" stroke-width="0.85" fill="none"/>
<path d="M331.05 79.15h3.36M332.73 77.47v3.36M330.74 77.15l3.99 3.99M330.74 81.14l3.99 -3.99" stroke="#1a1aff" stroke-width="0.85" fill="none"/>
<path d="M332.43 79.42h3.36M334.11 77.74v3.36M332.12 77.43l3.99 3.99M332.12 81.42l3.99 -3.99" stroke="#1a1aff" stroke-width="0.85" fill="none"/>
<path d="M333.78 79.69h3.36M335.46 78.01v3.36M333.47 77.70l3.99 3.99M333.47 81.69l3.99 -3.99" stroke="#1a1aff" stroke-width="0.85" fill="none"/>
<path d="M335.09 79.93h3.36M336.77 78.25v3.36M334.77 77.94l3.99 3.99M334.77 81.93l3.99 -3.99" stroke="#1a1aff" stroke-width="0.85" fill="none"/>
<path d="M336.36 80.15h3.36M338.04 78.47v3.36M336.05 78.15l3.99 3.99M336.05 82.14l3.99 -3.99" stroke="#1a1aff" stroke-width="0.85" fill="none"/>
<path d="M337.61 80.36h3.36M339.29 78.68v3.36M337.29 78.36l3.99 3.99M337.29 82.35l3.99 -3.99" stroke="#1a1aff" stroke-width="0.85" fill="none"/>
<path d="M338.82 80.56h3.36M340.50 78.88v3.36M338.50 78.57l3.99 3.99M338.50 82.56l3.99 -3.99" stroke="#1a1aff" stroke-width="0.85" fill="none"/>
<path d="M340.00 80.77h3.36M341.68 79.09v3.36M339.68 78.77l3.99 3.99M339.68 82.76l3.99 -3.99" stroke="#1a1aff" stroke-width="0.85" fill="none"/>
<path d="M341.15 80.96h3.36M342.83 79.28v3.36M340.84 78.97l3.99 3.99M340.84 82.96l3.99 -3.99" stroke="#1a1aff" stroke-width="0.85" fill="none"/>
<path d="M342.28 81.15h3.36M343.96 79.47v3.36M341.96 79.16l3.99 3.99M341.96 83.15l3.99 -3.99" stroke="#1a1aff" stroke-width="0.85" fill="none"/>
<path d="M343.38 81.34h3.36M345.06 79.66v3.36M343.06 79.34l3.99 3.99M343.06 83.33l3.99 -3.99" stroke="#1a1aff" stroke-width="0.85" fill="none"/>
<path d="M344.45 81.53h3.36M346.13 79.85v3.36M344.14 79.54l3.99 3.99M344.14 83.53l3.99 -3.99" stroke="#1a1aff" stroke-width="0.85" fill="none"/>
<path d="M345.51 81.77h3.36M347.19 80.09v3.36M345.19 79.78l3.99 3.99M345.19 83.77l3.99 -3.99" stroke="#1a1aff" stroke-width="0.85" fill="none"/>
<path d="M346.54 82.01h3.36M348.22 80.33v3.36M346.22 80.01l3.99 3.99M346.22 84.00l3.99 -3.99" stroke="#1a1aff" stroke-width="0.85" fill="none"/>
<path d="M347.55 82.24h3.36M349.23 80.56v3.36M347.23 80.24l3.99 3.99M347.23 84.23l3.99 -3.99" stroke="#1a1aff" stroke-width="0.85" fill="none"/>
<path d="M348.54 82.39h3.36M350.22 80.71v3.36M348.22 80.40l3.99 3.99M348.22 84.39l3.99 -3.99" stroke="#1a1aff" stroke-width="0.85" fill="none"/>
<path d="M349.50 82.51h3.36M351.18 80.83v3.36M349.19 80.52l3.99 3.99M349.19 84.51l3.99 -3.99" stroke="#1a1aff" stroke-width="0.85" fill="none"/>
<path d="M350.45 82.63h3.36M352.13 80.95v3.36M350.14 80.64l3.99 3.99M350.14 84.63l3.99 -3.99" stroke="#1a1aff" stroke-width="0.85" fill="none"/>
<path d="M351.38 82.75h3.36M353.06 81.07v3.36M351.07 80.75l3.99 3.99M351.07 84.74l3.99 -3.99" stroke="#1a1aff" stroke-width="0.85" fill="none"/>
<path d="M352.30 82.86h3.36M353.98 81.18v3.36M351.98 80.87l3.99 3.99M351.98 84.86l3.99 -3.99" stroke="#1a1aff" stroke-width="0.85" fill="none"/>
<path d="M353.20 82.98h3.36M354.88 81.30v3.36M352.88 80.98l3.99 3.99M352.88 84.97l3.99 -3.99" stroke="#1a1aff" stroke-width="0.85" fill="none"/>
<path d="M354.08 83.09h3.36M355.76 81.41v3.36M353.76 81.09l3.99 3.99M353.76 85.08l3.99 -3.99" stroke="#1a1aff" stroke-width="0.85" fill="none"/>
<path d="M354.94 83.20h3.36M356.62 81.52v3.36M354.63 81.20l3.99 3.99M354.63 85.19l3.99 -3.99" stroke="#1a1aff" stroke-width="0.85" fill="none"/>
<path d="M355.79 83.30h3.36M357.47 81.62v3.36M355.47 81.31l3.99 3.99M355.47 85.30l3.99 -3.99" stroke="#1a1aff" stroke-width="0.85" fill="none"/>
<path d="M356.62 83.41h3.36M358.30 81.73v3.36M356.31 81.41l3.99 3.99M356.31 85.40l3.99 -3.99" stroke="#1a1aff" stroke-width="0.85" fill="none"/>
<path d="M357.45 83.51h3.36M359.13 81.83v3.36M357.13 81.52l3.99 3.99M357.13 85.51l3.99 -3.99" stroke="#1a1aff" stroke-width="0.85" fill="none"/>
<path d="M358.25 83.61h3.36M359.93 81.93v3.36M357.94 81.62l3.99 3.99M357.94 85.61l3.99 -3.99" stroke="#1a1aff" stroke-width="0.85" fill="none"/>
<path d="M359.05 83.71h3.36M360.73 82.03v3.36M358.73 81.72l3.99 3.99M358.73 85.71l3.99 -3.99" stroke="#1a1aff" stroke-width="0.85" fill="none"/>
<path d="M359.83 83.81h3.36M361.51 82.13v3.36M359.51 81.82l3.99 3.99M359.51 85.81l3.99 -3.99" stroke="#1a1aff" stroke-width="0.85" fill="none"/>
<path d="M360.60 83.91h3.36M362.28 82.23v3.36M360.28 81.91l3.99 3.99M360.28 85.90l3.99 -3.99" stroke="#1a1aff" stroke-width="0.85" fill="none"/>
<path d="M361.35 84.00h3.36M363.03 82.32v3.36M361.04 82.01l3.99 3.99M361.04 86.00l3.99 -3.99" stroke="#1a1aff" stroke-width="0.85" fill="none"/>
<path d="M362.10 84.06h3.36M363.78 82.38v3.36M361.78 82.06l3.99 3.99M361.78 86.05l3.99 -3.99" stroke="#1a1aff" stroke-width="0.85" fill="none"/>
<path d="M362.83 84.11h3.36M364.51 82.43v3.36M362.52 82.12l3.99 3.99M362.52 86.11l3.99 -3.99" stroke="#1a1aff" stroke-width="0.85" fill="none"/>
<path d="M363.55 84.17h3.36M365.23 82.49v3.36M363.24 82.17l3.99 3.99M363.24 86.16l3.99 -3.99" stroke="#1a1aff" stroke-width="0.85" fill="none"/>
<path d="M364.27 84.22h3.36M365.95 82.54v3.36M363.95 82.22l3.99 3.99M363.95 86.21l3.99 -3.99" stroke="#1a1aff" stroke-width="0.85" fill="none"/>
<path d="M364.97 84.27h3.36M366.65 82.59v3.36M364.65 82.28l3.99 3.99M364.65 86.27l3.99 -3.99" stroke="#1a1aff" stroke-width="0.85" fill="none"/>
<path d="M365.66 84.32h3.36M367.34 82.64v3.36M365.34 82.33l3.99 3.99M365.34 86.32l3.99 -3.99" stroke="#1a1aff" stroke-width="0.85" fill="none"/>
<path d="M366.34 84.37h3.36M368.02 82.69v3.36M366.03 82.38l3.99 3.99M366.03 86.37l3.99 -3.99" stroke="#1a1aff" stroke-width="0.85" fill="none"/>
<path d="M367.01 84.42h3.36M368.69 82.74v3.36M366.70 82.43l3.99 3.99M366.70 86.42l3.99 -3.99" stroke="#1a1aff" stroke-width="0.85" fill="none"/>
<path d="M367.68 84.47h3.36M369.36 82.79v3.36M367.36 82.48l3.99 3.99M367.36 86.47l3.99 -3.99" stroke="#1a1aff" stroke-width="0.85" fill="none"/>
<path d="M368.33 84.52h3.36M370.01 82.84v3.36M368.02 82.52l3.99 3.99M368.02 86.51l3.99 -3.99" stroke="#1a1aff" stroke-width="0.85" fill="none"/>
<path d="M368.98 84.57h3.36M370.66 82.89v3.36M368.66 82.57l3.99 3.99M368.66 86.56l3.99 -3.99" stroke="#1a1aff" stroke-width="0.85" fill="none"/>
<path d="M369.61 84.61h3.36M371.29 82.93v3.36M369.30 82.62l3.99 3.99M369.30 86.61l3.99 -3.99" stroke="#1a1aff" stroke-width="0.85" fill="none"/>
<path d="M370.24 84.66h3.36M371.92 82.98v3.36M369.93 82.67l3.99 3.99M369.93 86.66l3.99 -3.99" stroke="#1a1aff" stroke-width="0.85" fill="none"/>
<path d="M370.86 84.71h3.36M372.54 83.03v3.36M370.55 82.71l3.99 3.99M370.55 86.70l3.99 -3.99" stroke="#1a1aff" stroke-width="0.85" fill="none"/>
<path d="M371.48 84.75h3.36M373.16 83.07v3.36M371.16 82.76l3.99 3.99M371.16 86.75l3.99 -3.99" stroke="#1a1aff" stroke-width="0.85" fill="none"/>
<path d="M372.08 84.80h3.36M373.76 83.12v3.36M371.77 82.80l3.99 3.99M371.77 86.79l3.99 -3.99" stroke="#1a1aff" stroke-width="0.85" fill="none"/>
<path d="M372.68 84.84h3.36M374.36 83.16v3.36M372.36 82.85l3.99 3.99M372.36 86.84l3.99 -3.99" stroke="#1a1aff" stroke-width="0.85" fill="none"/>
<path d="M373.27 84.89h3.36M374.95 83.21v3.36M372.96 82.89l3.99 3.99M372.96 86.88l3.99 -3.99" stroke="#1a1aff" stroke-width="0.85" fill="none"/>
<path d="M373.85 84.93h3.36M375.53 83.25v3.36M373.54 82.93l3.99 3.99M373.54 86.92l3.99 -3.99" stroke="#1a1aff" stroke-width="0.85" fill="none"/>
<path d="M374.43 84.97h3.36M376.11 83.29v3.36M374.12 82.98l3.99 3.99M374.12 86.97l3.99 -3.99" stroke="#1a1aff" stroke-width="0.85" fill="none"/>
<path d="M375.00 85.01h3.36M376.68 83.33v3.36M374.68 83.01l3.99 3.99M374.68 87.00l3.99 -3.99" stroke="#1a1aff" stroke-width="0.85" fill="none"/>
<path d="M375.56 85.02h3.36M377.24 83.34v3.36M375.25 83.03l3.99 3.99M375.25 87.02l3.99 -3.99" stroke="#1a1aff" stroke-width="0.85" fill="none"/>
<path d="M376.12 85.04h3.36M377.80 83.36v3.36M375.80 83.04l3.99 3.99M375.80 87.03l3.99 -3.99" stroke="#1a1aff" stroke-width="0.85" fill="none"/>
<path d="M376.67 85.05h3.36M378.35 83.37v3.36M376.35 83.06l3.99 3.99M376.35 87.05l3.99 -3.99" stroke="#1a1aff" stroke-width="0.85" fill="none"/>
<path d="M377.21 85.07h3.36M378.89 83.39v3.36M376.90 83.07l3.99 3.99M376.90 87.06l3.99 -3.99" stroke="#1a1aff" stroke-width="0.85" fill="none"/>
<path d="M377.75 85.08h3.36M379.43 83.40v3.36M377.44 83.09l3.99 3.99M377.44 87.08l3.99 -3.99" stroke="#1a1aff" stroke-width="0.85" fill="none"/>
<path d="M378.28 85.10h3.36M379.96 83.42v3.36M377.97 83.10l3.99 3.99M377.97 87.09l3.99 -3.99" stroke="#1a1aff" stroke-width="0.85" fill="none"/>
<path d="M378.81 85.11h3.36M380.49 83.43v3.36M378.49 83.12l3.99 3.99M378.49 87.11l3.99 -3.99" stroke="#1a1aff" stroke-width="0.85" fill="none"/>
<path d="M379.33 85.13h3.36M381.01 83.45v3.36M379.02 83.13l3.99 3.99M379.02 87.12l3.99 -3.99" stroke="#1a1aff" stroke-width="0.85" fill="none"/>
<path d="M379.85 85.14h3.36M381.53 83.46v3.36M379.53 83.15l3.99 3.99M379.53 87.14l3.99 -3.99" stroke="#1a1aff" stroke-width="0.85" fill="none"/>
<path d="M380.35 85.16h3.36M382.03 83.48v3.36M380.04 83.16l3.99 3.99M380.04 87.15l3.99 -3.99" stroke="#1a1aff" stroke-width="0.85" fill="none"/>
<path d="M380.86 85.17h3.36M382.54 83.49v3.36M380.54 83.18l3.99 3.99M380.54 87.17l3.99 -3.99" stroke="#1a1aff" stroke-width="0.85" fill="none"/>
<path d="M381.36 85.18h3.36M383.04 83.50v3.36M381.04 83.19l3.99 3.99M381.04 87.18l3.99 -3.99" stroke="#1a1aff" stroke-width="0.85" fill="none"/>
<path d="M117.91 58.10h4.20L120.01 53.90Z" stroke="#c00000" stroke-width="0.9" fill="none"/>
<path d="M178.07 77.17h4.20L180.17 72.97Z" stroke="#c00000" stroke-width="0.9" fill="none"/>
<path d="M203.13 87.03h4.20L205.23 82.83Z" stroke="#c00000" stroke-width="0.9" fill="none"/>
<path d="M219.56 91.95h4.20L221.66 87.75Z" stroke="#c00000" stroke-width="0.9" fill="none"/>
<path d="M231.80 96.58h4.20L233.90 92.38Z" stroke="#c00000" stroke-width="0.9" fill="none"/>
<path d="M241.56 99.34h4.20L243.66 95.14Z" stroke="#c00000" stroke-width="0.9" fill="none"/>
<path d="M249.68 101.73h4.20L251.78 97.53Z" stroke="#c00000" stroke-width="0.9" fill="none"/>
<path d="M256.64 103.05h4.20L258.74 98.85Z" stroke="#c00000" stroke-width="0.9" fill="none"/>
<path d="M262.71 104.04h4.20L264.81 99.84Z" stroke="#c00000" stroke-width="0.9" fill="none"/>
<path d="M268.11 105.08h4.20L270.21 100.88Z" stroke="#c00000" stroke-width="0.9" fill="none"/>
<path d="M272.97 106.28h4.20L275.07 102.08Z" stroke="#c00000" stroke-width="0.9" fill="none"/>
<path d="M277.38 107.93h4.20L279.48 103.73Z" stroke="#c00000" stroke-width="0.9" fill="none"/>
<path d="M281.43 109.45h4.20L283.53 105.25Z" stroke="#c00000" stroke-width="0.9" fill="none"/>
<path d="M285.16 110.52h4.20L287.26 106.32Z" stroke="#c00000" stroke-width="0.9" fill="none"/>
<path d="M288.63 111.31h4.20L290.73 107.11Z" stroke="#c00000" stroke-width="0.9" fill="none"/>
<path d="M291.86 112.05h4.20L293.96 107.85Z" stroke="#c00000" stroke-width="0.9" fill="none"/>
<path d="M294.89 112.74h4.20L296.99 108.54Z" stroke="#c00000" stroke-width="0.9" fill="none"/>
<path d="M297.74 113.38h4.20L299.84 109.18Z" stroke="#c00000" stroke-width="0.9" fill="none"/>
<path d="M300.44 113.97h4.20L302.54 109.77Z" stroke="#c00000" stroke-width="0.9" fill="none"/>
<path d="M302.99 114.54h4.20L305.09 110.34Z" stroke="#c00000" stroke-width="0.9" fill="none"/>
<path d="M305.41 115.08h4.20L307.51 110.88Z" stroke="#c00000" stroke-width="0.9" fill="none"/>
<path d="M307.72 115.59h4.20L309.82 111.39Z" stroke="#c00000" stroke-width="0.9" fill="none"/>
<path d="M309.92 116.19h4.20L312.02 111.99Z" stroke="#c00000" stroke-width="0.9" fill="none"/>
<path d="M312.03 116.79h4.20L314.13 112.59Z" stroke="#c00000" stroke-width="0.9" fill="none"/>
<path d="M314.05 117.36h4.20L316.15 113.16Z" stroke="#c00000" stroke-width="0.9" fill="none"/>
<path d="M315.99 117.91h4.20L318.09 113.71Z" stroke="#c00000" stroke-width="0.9" fill="none"/>
<path d="M317.85 118.44h4.20L319.95 114.24Z" stroke="#c00000" stroke-width="0.9" fill="none"/>
<path d="M319.64 118.94h4.20L321.74 114.74Z" stroke="#c00000" stroke-width="0.9" fill="none"/>
<path d="M321.38 119.46h4.20L323.48 115.26Z" stroke="#c00000" stroke-width="0.9" fill="none"/>
<path d="M323.05 120.03h4.20L325.15 115.83Z" stroke="#c00000" stroke-width="0.9" fill="none"/>
<path d="M324.66 120.58h4.20L326.76 116.38Z" stroke="#c00000" stroke-width="0.9" fill="none"/>
<path d="M326.22 121.12h4.20L328.32 116.92Z" stroke="#c00000" stroke-width="0.9" fill="none"/>
<path d="M327.74 121.63h4.20L329.84 117.43Z" stroke="#c00000" stroke-width="0.9" fill="none"/>
<path d="M329.21 122.13h4.20L331.31 117.93Z" stroke="#c00000" stroke-width="0.9" fill="none"/>
<path d="M330.63 122.62h4.20L332.73 118.42Z" stroke="#c00000" stroke-width="0.9" fill="none"/>
<path d="M332.01 123.09h4.20L334.11 118.89Z" stroke="#c00000" stroke-width="0.9" fill="none"/>
<path d="M333.36 123.55h4.20L335.46 119.35Z" stroke="#c00000" stroke-width="0.9" fill="none"/>
<path d="M334.67 123.95h4.20L336.77 119.75Z" stroke="#c00000" stroke-width="0.9" fill="none"/>
<path d="M335.94 124.33h4.20L338.04 120.13Z" stroke="#c00000" stroke-width="0.9" fill="none"/>
<path d="M337.19 124.70h4.20L339.29 120.50Z" stroke="#c00000" stroke-width="0.9" fill="none"/>
<path d="M338.40 125.07h4.20L340.50 120.87Z" stroke="#c00000" stroke-width="0.9" fill="none"/>
<path d="M339.58 125.42h4.20L341.68 121.22Z" stroke="#c00000" stroke-width="0.9" fill="none"/>
<path d="M340.73 125.76h4.20L342.83 121.56Z" stroke="#c00000" stroke-width="0.9" fill="none"/>
<path d="M341.86 126.10h4.20L343.96 121.90Z" stroke="#c00000" stroke-width="0.9" fill="none"/>
<path d="M342.96 126.43h4.20L345.06 122.23Z" stroke="#c00000" stroke-width="0.9" fill="none"/>
<path d="M344.03 126.75h4.20L346.13 122.55Z" stroke="#c00000" stroke-width="0.9" fill="none"/>
<path d="M345.09 127.07h4.20L347.19 122.87Z" stroke="#c00000" stroke-width="0.9" fill="none"/>
<path d="M346.12 127.38h4.20L348.22 123.18Z" stroke="#c00000" stroke-width="0.9" fill="none"/>
<path d="M347.13 127.62h4.20L349.23 123.42Z" stroke="#c00000" stroke-width="0.9" fill="none"/>
<path d="M348.12 127.86h4.20L350.22 123.66Z" stroke="#c00000" stroke-width="0.9" fill="none"/>
<path d="M349.08 128.09h4.20L351.18 123.89Z" stroke="#c00000" stroke-width="0.9" fill="none"/>
<path d="M350.03 128.31h4.20L352.13 124.11Z" stroke="#c00000" stroke-width="0.9" fill="none"/>
<path d="M350.96 128.53h4.20L353.06 124.33Z" stroke="#c00000" stroke-width="0.9" fill="none"/>
<path d="M351.88 128.75h4.20L353.98 124.55Z" stroke="#c00000" stroke-width="0.9" fill="none"/>
<path d="M352.78 128.97h4.20L354.88 124.77Z" stroke="#c00000" stroke-width="0.9" fill="none"/>
<path d="M353.66 129.18h4.20L355.76 124.98Z" stroke="#c00000" stroke-width="0.9" fill="none"/>
<path d="M354.52 129.38h4.20L356.62 125.18Z" stroke="#c00000" stroke-width="0.9" fill="none"/>
<path d="M355.37 129.58h4.20L357.47 125.38Z" stroke="#c00000" stroke-width="0.9" fill="none"/>
<path d="M356.20 129.78h4.20L358.30 125.58Z" stroke="#c00000" stroke-width="0.9" fill="none"/>
<path d="M357.03 129.98h4.20L359.13 125.78Z" stroke="#c00000" stroke-width="0.9" fill="none"/>
<path d="M357.83 130.17h4.20L359.93 125.97Z" stroke="#c00000" stroke-width="0.9" fill="none"/>
<path d="M358.63 130.36h4.20L360.73 126.16Z" stroke="#c00000" stroke-width="0.9" fill="none"/>
<path d="M359.41 130.47h4.20L361.51 126.27Z" stroke="#c00000" stroke-width="0.9" fill="none"/>
<path d="M360.18 130.55h4.20L362.28 126.35Z" stroke="#c00000" stroke-width="0.9" fill="none"/>
<path d="M360.93 130.64h4.20L363.03 126.44Z" stroke="#c00000" stroke-width="0.9" fill="none"/>
<path d="M361.68 130.72h4.20L363.78 126.52Z" stroke="#c00000" stroke-width="0.9" fill="none"/>
<path d="M362.41 130.80h4.20L364.51 126.60Z" stroke="#c00000" stroke-width="0.9" fill="none"/>
<path d="M363.13 130.88h4.20L365.23 126.68Z" stroke="#c00000" stroke-width="0.9" fill="none"/>
<path d="M363.85 130.96h4.20L365.95 126.76Z" stroke="#c00000" stroke-width="0.9" fill="none"/>
<path d="M364.55 131.03h4.20L366.65 126.83Z" stroke="#c00000" stroke-width="0.9" fill="none"/>
<path d="M365.24 131.11h4.20L367.34 126.91Z" stroke="#c00000" stroke-width="0.9" fill="none"/>
<path d="M365.92 131.19h4.20L368.02 126.99Z" stroke="#c00000" stroke-width="0.9" fill="none"/>
<path d="M366.59 131.26h4.20L368.69 127.06Z" stroke="#c00000" stroke-width="0.9" fill="none"/>
<path d="M367.26 131.33h4.20L369.36 127.13Z" stroke="#c00000" stroke-width="0.9" fill="none"/>
<path d="M367.91 131.40h4.20L370.01 127.20Z" stroke="#c00000" stroke-width="0.9" fill="none"/>
<path d="M368.56 131.48h4.20L370.66 127.28Z" stroke="#c00000" stroke-width="0.9" fill="none"/>
<path d="M369.19 131.55h4.20L371.29 127.35Z" stroke="#c00000" stroke-width="0.9" fill="none"/>
<path d="M369.82 131.62h4.20L371.92 127.42Z" stroke="#c00000" stroke-width="0.9" fill="none"/>
<path d="M370.44 131.68h4.20L372.54 127.48Z" stroke="#c00000" stroke-width="0.9" fill="none"/>
<path d="M371.06 131.75h4.20L373.16 127.55Z" stroke="#c00000" stroke-width="0.9" fill="none"/>
<path d="M371.66 131.81h4.20L373.76 127.61Z" stroke="#c00000" stroke-width="0.9" fill="none"/>
<path d="M372.26 131.84h4.20L374.36 127.64Z" stroke="#c00000" stroke-width="0.9" fill="none"/>
<path d="M372.85 131.87h4.20L374.95 127.67Z" stroke="#c00000" stroke-width="0.9" fill="none"/>
<path d="M373.43 131.89h4.20L375.53 127.69Z" stroke="#c00000" stroke-width="0.9" fill="none"/>
<path d="M374.01 131.92h4.20L376.11 127.72Z" stroke="#c00000" stroke-width="0.9" fill="none"/>
<path d="M374.58 131.95h4.20L376.68 127.75Z" stroke="#c00000" stroke-width="0.9" fill="none"/>
<path d="M375.14 131.98h4.20L377.24 127.78Z" stroke="#c00000" stroke-width="0.9" fill="none"/>
<path d="M375.70 132.01h4.20L377.80 127.81Z" stroke="#c00000" stroke-width="0.9" fill="none"/>
<path d="M376.25 132.03h4.20L378.35 127.83Z" stroke="#c00000" stroke-width="0.9" fill="none"/>
<path d="M376.79 132.06h4.20L378.89 127.86Z" stroke="#c00000" stroke-width="0.9" fill="none"/>
<path d="M377.33 132.09h4.20L379.43 127.89Z" stroke="#c00000" stroke-width="0.9" fill="none"/>
<path d="M377.86 132.11h4.20L379.96 127.91Z" stroke="#c00000" stroke-width="0.9" fill="none"/>
<path d="M378.39 132.14h4.20L380.49 127.94Z" stroke="#c00000" stroke-width="0.9" fill="none"/>
<path d="M378.91 132.16h4.20L381.01 127.96Z" stroke="#c00000" stroke-width="0.9" fill="none"/>
<path d="M379.43 132.19h4.20L381.53 127.99Z" stroke="#c00000" stroke-width="0.9" fill="none"/>
<path d="M379.93 132.21h4.20L382.03 128.01Z" stroke="#c00000" stroke-width="0.9" fill="none"/>
<path d="M380.44 132.24h4.20L382.54 128.04Z" stroke="#c00000" stroke-width="0.9" fill="none"/>
<path d="M380.94 132.26h4.20L383.04 128.06Z" stroke="#c00000" stroke-width="0.9" fill="none"/>
<path d="M118.21 66.70L120.01 64.90L121.81 66.70L120.01 68.50Z" stroke="#ffa228" stroke-width="1.0" fill="none"/>
<path d="M178.37 98.18L180.17 96.38L181.97 98.18L180.17 99.98Z" stroke="#ffa228" stroke-width="1.0" fill="none"/>
<path d="M203.43 117.57L205.23 115.77L207.03 117.57L205.23 119.37Z" stroke="#ffa228" stroke-width="1.0" fill="none"/>
<path d="M219.86 129.68L221.66 127.88L223.46 129.68L221.66 131.48Z" stroke="#ffa228" stroke-width="1.0" fill="none"/>
<path d="M232.10 138.17L233.90 136.37L235.70 138.17L233.90 139.97Z" stroke="#ffa228" stroke-width="1.0" fill="none"/>
<path d="M241.86 144.59L243.66 142.79L245.46 144.59L243.66 146.39Z" stroke="#ffa228" stroke-width="1.0" fill="none"/>
<path d="M249.98 149.18L251.78 147.38L253.58 149.18L251.78 150.98Z" stroke="#ffa228" stroke-width="1.0" fill="none"/>
<path d="M256.94 153.07L258.74 151.27L260.54 153.07L258.74 154.87Z" stroke="#ffa228" stroke-width="1.0" fill="none"/>
<path d="M263.01 156.37L264.81 154.57L266.61 156.37L264.81 158.17Z" stroke="#ffa228" stroke-width="1.0" fill="none"/>
<path d="M268.41 159.09L270.21 157.29L272.01 159.09L270.21 160.89Z" stroke="#ffa228" stroke-width="1.0" fill="none"/>
<path d="M273.27 161.50L275.07 159.70L276.87 161.50L275.07 163.30Z" stroke="#ffa228" stroke-width="1.0" fill="none"/>
<path d="M277.68 163.70L279.48 161.90L281.28 163.70L279.48 165.50Z" stroke="#ffa228" stroke-width="1.0" fill="none"/>
<path d="M281.73 165.75L283.53 163.95L285.33 165.75L283.53 167.55Z" stroke="#ffa228" stroke-width="1.0" fill="none"/>
<path d="M285.46 167.38L287.26 165.58L289.06 167.38L287.26 169.18Z" stroke="#ffa228" stroke-width="1.0" fill="none"/>
<path d="M288.93 168.73L290.73 166.93L292.53 168.73L290.73 170.53Z" stroke="#ffa228" stroke-width="1.0" fill="none"/>
<path d="M292.16 170.19L293.96 168.39L295.76 170.19L293.96 171.99Z" stroke="#ffa228" stroke-width="1.0" fill="none"/>
<path d="M295.19 171.58L296.99 169.78L298.79 171.58L296.99 173.38Z" stroke="#ffa228" stroke-width="1.0" fill="none"/>
<path d="M298.04 172.81L299.84 171.01L301.64 172.81L299.84 174.61Z" stroke="#ffa228" stroke-width="1.0" fill="none"/>
<path d="M300.74 173.95L302.54 172.15L304.34 173.95L302.54 175.75Z" stroke="#ffa228" stroke-width="1.0" fill="none"/>
<path d="M303.29 175.02L305.09 173.22L306.89 175.02L305.09 176.82Z" stroke="#ffa228" stroke-width="1.0" fill="none"/>
<path d="M305.71 176.03L307.51 174.23L309.31 176.03L307.51 177.83Z" stroke="#ffa228" stroke-width="1.0" fill="none"/>
<path d="M308.02 177.00L309.82 175.20L311.62 177.00L309.82 178.80Z" stroke="#ffa228" stroke-width="1.0" fill="none"/>
<path d="M310.22 177.99L312.02 176.19L313.82 177.99L312.02 179.79Z" stroke="#ffa228" stroke-width="1.0" fill="none"/>
<path d="M312.33 178.95L314.13 177.15L315.93 178.95L314.13 180.75Z" stroke="#ffa228" stroke-width="1.0" fill="none"/>
<path d="M314.35 179.88L316.15 178.08L317.95 179.88L316.15 181.68Z" stroke="#ffa228" stroke-width="1.0" fill="none"/>
<path d="M316.29 181.04L318.09 179.24L319.89 181.04L318.09 182.84Z" stroke="#ffa228" stroke-width="1.0" fill="none"/>
<path d="M318.15 182.16L319.95 180.36L321.75 182.16L319.95 183.96Z" stroke="#ffa228" stroke-width="1.0" fill="none"/>
<path d="M319.94 183.24L321.74 181.44L323.54 183.24L321.74 185.04Z" stroke="#ffa228" stroke-width="1.0" fill="none"/>
<path d="M321.68 184.25L323.48 182.45L325.28 184.25L323.48 186.05Z" stroke="#ffa228" stroke-width="1.0" fill="none"/>
<path d="M323.35 185.12L325.15 183.32L326.95 185.12L325.15 186.92Z" stroke="#ffa228" stroke-width="1.0" fill="none"/>
<path d="M324.96 185.97L326.76 184.17L328.56 185.97L326.76 187.77Z" stroke="#ffa228" stroke-width="1.0" fill="none"/>
<path d="M326.52 186.79L328.32 184.99L330.12 186.79L328.32 188.59Z" stroke="#ffa228" stroke-width="1.0" fill="none"/>
<path d="M328.04 187.58L329.84 185.78L331.64 187.58L329.84 189.38Z" stroke="#ffa228" stroke-width="1.0" fill="none"/>
<path d="M329.51 188.35L331.31 186.55L333.11 188.35L331.31 190.15Z" stroke="#ffa228" stroke-width="1.0" fill="none"/>
<path d="M330.93 189.10L332.73 187.30L334.53 189.10L332.73 190.90Z" stroke="#ffa228" stroke-width="1.0" fill="none"/>
<path d="M332.31 189.82L334.11 188.02L335.91 189.82L334.11 191.62Z" stroke="#ffa228" stroke-width="1.0" fill="none"/>
<path d="M333.66 190.53L335.46 188.73L337.26 190.53L335.46 192.33Z" stroke="#ffa228" stroke-width="1.0" fill="none"/>
<path d="M334.97 191.24L336.77 189.44L338.57 191.24L336.77 193.04Z" stroke="#ffa228" stroke-width="1.0" fill="none"/>
<path d="M336.24 191.95L338.04 190.15L339.84 191.95L338.04 193.75Z" stroke="#ffa228" stroke-width="1.0" fill="none"/>
<path d="M337.49 192.63L339.29 190.83L341.09 192.63L339.29 194.43Z" stroke="#ffa228" stroke-width="1.0" fill="none"/>
<path d="M338.70 193.30L340.50 191.50L342.30 193.30L340.50 195.10Z" stroke="#ffa228" stroke-width="1.0" fill="none"/>
<path d="M339.88 193.95L341.68 192.15L343.48 193.95L341.68 195.75Z" stroke="#ffa228" stroke-width="1.0" fill="none"/>
<path d="M341.03 194.59L342.83 192.79L344.63 194.59L342.83 196.39Z" stroke="#ffa228" stroke-width="1.0" fill="none"/>
<path d="M342.16 195.21L343.96 193.41L345.76 195.21L343.96 197.01Z" stroke="#ffa228" stroke-width="1.0" fill="none"/>
<path d="M343.26 195.81L345.06 194.01L346.86 195.81L345.06 197.61Z" stroke="#ffa228" stroke-width="1.0" fill="none"/>
<path d="M344.33 196.41L346.13 194.61L347.93 196.41L346.13 198.21Z" stroke="#ffa228" stroke-width="1.0" fill="none"/>
<path d="M345.39 196.99L347.19 195.19L348.99 196.99L347.19 198.79Z" stroke="#ffa228" stroke-width="1.0" fill="none"/>
<path d="M346.42 197.55L348.22 195.75L350.02 197.55L348.22 199.35Z" stroke="#ffa228" stroke-width="1.0" fill="none"/>
<path d="M347.43 197.98L349.23 196.18L351.03 197.98L349.23 199.78Z" stroke="#ffa228" stroke-width="1.0" fill="none"/>
<path d="M348.42 198.39L350.22 196.59L352.02 198.39L350.22 200.19Z" stroke="#ffa228" stroke-width="1.0" fill="none"/>
<path d="M349.38 198.79L351.18 196.99L352.98 198.79L351.18 200.59Z" stroke="#ffa228" stroke-width="1.0" fill="none"/>
<path d="M350.33 199.18L352.13 197.38L353.93 199.18L352.13 200.98Z" stroke="#ffa228" stroke-width="1.0" fill="none"/>
<path d="M351.26 199.57L353.06 197.77L354.86 199.57L353.06 201.37Z" stroke="#ffa228" stroke-width="1.0" fill="none"/>
<path d="M352.18 199.94L353.98 198.14L355.78 199.94L353.98 201.74Z" stroke="#ffa228" stroke-width="1.0" fill="none"/>
<path d="M353.08 200.31L354.88 198.51L356.68 200.31L354.88 202.11Z" stroke="#ffa228" stroke-width="1.0" fill="none"/>
<path d="M353.96 200.68L355.76 198.88L357.56 200.68L355.76 202.48Z" stroke="#ffa228" stroke-width="1.0" fill="none"/>
<path d="M354.82 201.03L356.62 199.23L358.42 201.03L356.62 202.83Z" stroke="#ffa228" stroke-width="1.0" fill="none"/>
<path d="M355.67 201.38L357.47 199.58L359.27 201.38L357.47 203.18Z" stroke="#ffa228" stroke-width="1.0" fill="none"/>
<path d="M356.50 201.73L358.30 199.93L360.10 201.73L358.30 203.53Z" stroke="#ffa228" stroke-width="1.0" fill="none"/>
<path d="M357.33 202.07L359.13 200.27L360.93 202.07L359.13 203.87Z" stroke="#ffa228" stroke-width="1.0" fill="none"/>
<path d="M358.13 202.40L359.93 200.60L361.73 202.40L359.93 204.20Z" stroke="#ffa228" stroke-width="1.0" fill="none"/>
<path d="M358.93 202.73L360.73 200.93L362.53 202.73L360.73 204.53Z" stroke="#ffa228" stroke-width="1.0" fill="none"/>
<path d="M359.71 202.93L361.51 201.13L363.31 202.93L361.51 204.73Z" stroke="#ffa228" stroke-width="1.0" fill="none"/>
<path d="M360.48 203.10L362.28 201.30L364.08 203.10L362.28 204.90Z" stroke="#ffa228" stroke-width="1.0" fill="none"/>
<path d="M361.23 203.26L363.03 201.46L364.83 203.26L363.03 205.06Z" stroke="#ffa228" stroke-width="1.0" fill="none"/>
<path d="M361.98 203.43L363.78 201.63L365.58 203.43L363.78 205.23Z" stroke="#ffa228" stroke-width="1.0" fill="none"/>
<path d="M362.71 203.59L364.51 201.79L366.31 203.59L364.51 205.39Z" stroke="#ffa228" stroke-width="1.0" fill="none"/>
<path d="M363.43 203.74L365.23 201.94L367.03 203.74L365.23 205.54Z" stroke="#ffa228" stroke-width="1.0" fill="none"/>
<path d="M364.15 203.90L365.95 202.10L367.75 203.90L365.95 205.70Z" stroke="#ffa228" stroke-width="1.0" fill="none"/>
<path d="M364.85 204.05L366.65 202.25L368.45 204.05L366.65 205.85Z" stroke="#ffa228" stroke-width="1.0" fill="none"/>
<path d="M365.54 204.20L367.34 202.40L369.14 204.20L367.34 206.00Z" stroke="#ffa228" stroke-width="1.0" fill="none"/>
<path d="M366.22 204.35L368.02 202.55L369.82 204.35L368.02 206.15Z" stroke="#ffa228" stroke-width="1.0" fill="none"/>
<path d="M366.89 204.50L368.69 202.70L370.49 204.50L368.69 206.30Z" stroke="#ffa228" stroke-width="1.0" fill="none"/>
<path d="M367.56 204.64L369.36 202.84L371.16 204.64L369.36 206.44Z" stroke="#ffa228" stroke-width="1.0" fill="none"/>
<path d="M368.21 204.78L370.01 202.98L371.81 204.78L370.01 206.58Z" stroke="#ffa228" stroke-width="1.0" fill="none"/>
<path d="M368.86 204.93L370.66 203.13L372.46 204.93L370.66 206.73Z" stroke="#ffa228" stroke-width="1.0" fill="none"/>
<path d="M369.49 205.02L371.29 203.22L373.09 205.02L371.29 206.82Z" stroke="#ffa228" stroke-width="1.0" fill="none"/>
<path d="M370.12 205.07L371.92 203.27L373.72 205.07L371.92 206.87Z" stroke="#ffa228" stroke-width="1.0" fill="none"/>
<path d="M370.74 205.12L372.54 203.32L374.34 205.12L372.54 206.92Z" stroke="#ffa228" stroke-width="1.0" fill="none"/>
<path d="M371.36 205.17L373.16 203.37L374.96 205.17L373.16 206.97Z" stroke="#ffa228" stroke-width="1.0" fill="none"/>
<path d="M371.96 205.22L373.76 203.42L375.56 205.22L373.76 207.02Z" stroke="#ffa228" stroke-width="1.0" fill="none"/>
<path d="M372.56 205.26L374.36 203.46L376.16 205.26L374.36 207.06Z" stroke="#ffa228" stroke-width="1.0" fill="none"/>
<path d="M373.15 205.31L374.95 203.51L376.75 205.31L374.95 207.11Z" stroke="#ffa228" stroke-width="1.0" fill="none"/>
<path d="M373.73 205.35L375.53 203.55L377.33 205.35L375.53 207.15Z" stroke="#ffa228" stroke-width="1.0" fill="none"/>
<path d="M374.31 205.40L376.11 203.60L377.91 205.40L376.11 207.20Z" stroke="#ffa228" stroke-width="1.0" fill="none"/>
<path d="M374.88 205.44L376.68 203.64L378.48 205.44L376.68 207.24Z" stroke="#ffa228" stroke-width="1.0" fill="none"/>
<path d="M375.44 205.49L377.24 203.69L379.04 205.49L377.24 207.29Z" stroke="#ffa228" stroke-width="1.0" fill="none"/>
<path d="M376.00 205.42L377.80 203.62L379.60 205.42L377.80 207.22Z" stroke="#ffa228" stroke-width="1.0" fill="none"/>
<path d="M376.55 205.31L378.35 203.51L380.15 205.31L378.35 207.11Z" stroke="#ffa228" stroke-width="1.0" fill="none"/>
<path d="M377.09 205.20L378.89 203.40L380.69 205.20L378.89 207.00Z" stroke="#ffa228" stroke-width="1.0" fill="none"/>
<path d="M377.63 205.09L379.43 203.29L381.23 205.09L379.43 206.89Z" stroke="#ffa228" stroke-width="1.0" fill="none"/>
<path d="M378.16 204.98L379.96 203.18L381.76 204.98L379.96 206.78Z" stroke="#ffa228" stroke-width="1.0" fill="none"/>
<path d="M378.69 204.87L380.49 203.07L382.29 204.87L380.49 206.67Z" stroke="#ffa228" stroke-width="1.0" fill="none"/>
<path d="M379.21 204.77L381.01 202.97L382.81 204.77L381.01 206.57Z" stroke="#ffa228" stroke-width="1.0" fill="none"/>
<path d="M379.73 204.66L381.53 202.86L383.33 204.66L381.53 206.46Z" stroke="#ffa228" stroke-width="1.0" fill="none"/>
<path d="M380.23 204.56L382.03 202.76L383.83 204.56L382.03 206.36Z" stroke="#ffa228" stroke-width="1.0" fill="none"/>
<path d="M380.74 204.46L382.54 202.66L384.34 204.46L382.54 206.26Z" stroke="#ffa228" stroke-width="1.0" fill="none"/>
<path d="M381.24 204.35L383.04 202.55L384.84 204.35L383.04 206.15Z" stroke="#ffa228" stroke-width="1.0" fill="none"/>
</g>
<path d="M109.1 208.9H147" stroke="#4a4aff" stroke-width="1.8" stroke-dasharray="7.6 1.9 1.6 2 1.6 2 1.6 1.7" fill="none"/>
<path d="M109.1 219.2H147" stroke="#c00000" stroke-width="1.25" stroke-dasharray="7.6 1.9 1.6 2 1.6 2 1.6 1.7" fill="none"/>
<path d="M109.1 229.7H147" stroke="#ffa228" stroke-width="1.2" stroke-dasharray="7.6 1.9 1.6 2 1.6 2 1.6 1.7" fill="none"/>
<path d="M364.42 42.50h5.76M367.30 39.62v5.76M363.88 39.08l6.84 6.84M363.88 45.92l6.84 -6.84" stroke="#1a1aff" stroke-width="1.1" fill="none"/>
<path d="M364.10 56.40h6.80L367.50 49.60Z" stroke="#c00000" stroke-width="1.2" fill="none"/>
<path d="M364.00 62.80L367.50 59.30L371.00 62.80L367.50 66.30Z" stroke="#ffa228" stroke-width="1.15" fill="none"/>
<text transform="translate(89.0 35.3) scale(1.1 1)" text-anchor="end" style="font-family:'Liberation Sans',sans-serif;font-size:13.2px" fill="#1c1c1c">0</text>
<text transform="translate(89.0 89.6) scale(1.1 1)" text-anchor="end" style="font-family:'Liberation Sans',sans-serif;font-size:13.2px" fill="#1c1c1c"><tspan letter-spacing="1.4">−</tspan>10</text>
<text transform="translate(89.0 143.7) scale(1.1 1)" text-anchor="end" style="font-family:'Liberation Sans',sans-serif;font-size:13.2px" fill="#1c1c1c"><tspan letter-spacing="1.4">−</tspan>20</text>
<text transform="translate(89.0 197.7) scale(1.1 1)" text-anchor="end" style="font-family:'Liberation Sans',sans-serif;font-size:13.2px" fill="#1c1c1c"><tspan letter-spacing="1.4">−</tspan>30</text>
<text transform="translate(89.0 248.4) scale(1.1 1)" text-anchor="end" style="font-family:'Liberation Sans',sans-serif;font-size:13.2px" fill="#1c1c1c"><tspan letter-spacing="1.4">−</tspan>40</text>
<text transform="translate(93.6 266.4) scale(1.1 1)" text-anchor="middle" style="font-family:'Liberation Sans',sans-serif;font-size:13.2px" fill="#1c1c1c">10</text>
<text transform="translate(205.1 266.4) scale(1.1 1)" text-anchor="middle" style="font-family:'Liberation Sans',sans-serif;font-size:13.2px" fill="#1c1c1c">100</text>
<text transform="translate(316.5 266.4) scale(1.1 1)" text-anchor="middle" style="font-family:'Liberation Sans',sans-serif;font-size:13.2px" fill="#1c1c1c">1000</text>
<text transform="translate(238.6 282.9) scale(1 1)" text-anchor="middle" style="font-family:'Liberation Serif',serif;font-size:14px" fill="#111">l</text>
<g transform="translate(51.1 167.1) rotate(-90)" fill="#1c1c1c">
<text transform="translate(-0.8 0) scale(0.98 1)" text-anchor="start" style="font-family:'Liberation Sans',sans-serif;font-size:13px" >Δ</text>
<text transform="translate(14.0 0) scale(0.95 1)" text-anchor="start" style="font-family:'Liberation Sans',sans-serif;font-size:13px" >C</text>
<text transform="translate(23.3 3.6) scale(1.0 1)" text-anchor="start" style="font-family:'Liberation Serif',serif;font-size:9.5px" >l</text>
<text transform="translate(23.2 -6.8) scale(1.0 1)" text-anchor="start" style="font-family:'Liberation Sans',sans-serif;font-size:7.6px;font-weight:bold" >ϕϕ</text>
<text transform="translate(41.2 0) scale(1.15 1)" text-anchor="start" style="font-family:'Liberation Sans',sans-serif;font-size:14.6px" >(</text>
<text transform="translate(46.0 0) scale(0.83 1)" text-anchor="start" style="font-family:'Liberation Sans',sans-serif;font-size:13.8px" >%</text>
<text transform="translate(56.2 0) scale(1.15 1)" text-anchor="start" style="font-family:'Liberation Sans',sans-serif;font-size:14.6px" >)</text>
</g>
<g fill="#000" stroke="#000" stroke-width="0.22">
<text transform="translate(109.2 46.2) scale(0.8 1)" text-anchor="start" style="font-family:'Liberation Serif',serif;font-size:13px" >CMB</text>
<path d="M133.7 41.6H140.1" stroke="#000" stroke-width="0.9"/>
<text transform="translate(141.7 46.2) scale(1.04 1)" text-anchor="start" style="font-family:'Liberation Serif',serif;font-size:13.4px" >lensing</text>
<text transform="translate(188.4 45.6) scale(1.0 1)" text-anchor="start" style="font-family:'Liberation Serif',serif;font-size:10px" >,</text>
<text transform="translate(196.6 45.7) scale(1.08 1)" text-anchor="start" style="font-family:'Liberation Serif',serif;font-size:13px" stroke-width="0.3">z</text>
<text transform="translate(203.0 48.5) scale(1.0 1)" text-anchor="start" style="font-family:'Liberation Sans',sans-serif;font-size:7.8px;font-weight:bold;letter-spacing:0.25px" stroke-width="0.2">max</text>
<text transform="translate(219.0 46.0) scale(1.14 1)" text-anchor="start" style="font-family:'Liberation Sans',sans-serif;font-size:11px" stroke="none">=</text>
<text transform="translate(227.4 46.0) scale(1.1 1)" text-anchor="start" style="font-family:'Liberation Sans',sans-serif;font-size:11px" stroke="none">99</text>
</g>
<g fill="#000" stroke="#000" stroke-width="0.25">
<text transform="translate(258.0 45.7) scale(0.84 1)" text-anchor="start" style="font-family:'Liberation Serif',serif;font-size:11.8px" >CAMB</text>
<path d="M289.2 42.5H296" stroke="#000" stroke-width="0.9"/>
<text transform="translate(296.6 45.7) scale(0.83 1)" text-anchor="start" style="font-family:'Liberation Serif',serif;font-size:11.8px" >M</text>
<text transform="translate(305.9 48.300000000000004) scale(1.0 1)" text-anchor="start" style="font-family:'Liberation Serif',serif;font-size:7.6px;font-style:italic" stroke-width="0.15">ν</text>
<text transform="translate(311.5 45.7) scale(1.18 1)" text-anchor="start" style="font-family:'Liberation Sans',sans-serif;font-size:10.2px" stroke="none">=0.17</text>
<text transform="translate(348.2 45.7) scale(0.98 1)" text-anchor="start" style="font-family:'Liberation Serif',serif;font-size:11.8px;letter-spacing:-0.2px" >eV</text>
</g>
<g fill="#000" stroke="#000" stroke-width="0.25">
<text transform="translate(258.0 56.0) scale(0.84 1)" text-anchor="start" style="font-family:'Liberation Serif',serif;font-size:11.8px" >CAMB</text>
<path d="M289.2 52.8H296" stroke="#000" stroke-width="0.9"/>
<text transform="translate(296.6 56.0) scale(0.83 1)" text-anchor="start" style="font-family:'Liberation Serif',serif;font-size:11.8px" >M</text>
<text transform="translate(305.9 58.6) scale(1.0 1)" text-anchor="start" style="font-family:'Liberation Serif',serif;font-size:7.6px;font-style:italic" stroke-width="0.15">ν</text>
<text transform="translate(311.5 56.0) scale(1.18 1)" text-anchor="start" style="font-family:'Liberation Sans',sans-serif;font-size:10.2px" stroke="none">=0.30</text>
<text transform="translate(348.2 56.0) scale(0.98 1)" text-anchor="start" style="font-family:'Liberation Serif',serif;font-size:11.8px;letter-spacing:-0.2px" >eV</text>
</g>
<g fill="#000" stroke="#000" stroke-width="0.25">
<text transform="translate(258.0 65.9) scale(0.84 1)" text-anchor="start" style="font-family:'Liberation Serif',serif;font-size:11.8px" >CAMB</text>
<path d="M289.2 62.7H296" stroke="#000" stroke-width="0.9"/>
<text transform="translate(296.6 65.9) scale(0.83 1)" text-anchor="start" style="font-family:'Liberation Serif',serif;font-size:11.8px" >M</text>
<text transform="translate(305.9 68.5) scale(1.0 1)" text-anchor="start" style="font-family:'Liberation Serif',serif;font-size:7.6px;font-style:italic" stroke-width="0.15">ν</text>
<text transform="translate(311.5 65.9) scale(1.18 1)" text-anchor="start" style="font-family:'Liberation Sans',sans-serif;font-size:10.2px" stroke="none">=0.53</text>
<text transform="translate(348.2 65.9) scale(0.98 1)" text-anchor="start" style="font-family:'Liberation Serif',serif;font-size:11.8px;letter-spacing:-0.2px" >eV</text>
</g>
<g fill="#000" stroke="#000" stroke-width="0.25">
<text transform="translate(154.4 212.1) scale(0.96 1)" text-anchor="start" style="font-family:'Liberation Serif',serif;font-size:11.8px" >M</text>
<text transform="translate(163.7 215.29999999999998) scale(1.0 1)" text-anchor="start" style="font-family:'Liberation Serif',serif;font-size:7.6px;font-style:italic" stroke-width="0.15">ν</text>
<text transform="translate(168.5 212.1) scale(1.18 1)" text-anchor="start" style="font-family:'Liberation Sans',sans-serif;font-size:10.2px" stroke="none">=0.17</text>
<text transform="translate(206.0 212.1) scale(1.04 1)" text-anchor="start" style="font-family:'Liberation Serif',serif;font-size:11.8px;letter-spacing:-0.1px" >eV</text>
</g>
<g fill="#000" stroke="#000" stroke-width="0.25">
<text transform="translate(154.4 222.3) scale(0.96 1)" text-anchor="start" style="font-family:'Liberation Serif',serif;font-size:11.8px" >M</text>
<text transform="translate(163.7 225.5) scale(1.0 1)" text-anchor="start" style="font-family:'Liberation Serif',serif;font-size:7.6px;font-style:italic" stroke-width="0.15">ν</text>
<text transform="translate(168.5 222.3) scale(1.18 1)" text-anchor="start" style="font-family:'Liberation Sans',sans-serif;font-size:10.2px" stroke="none">=0.3</text>
<text transform="translate(199.3 222.3) scale(1.04 1)" text-anchor="start" style="font-family:'Liberation Serif',serif;font-size:11.8px;letter-spacing:-0.1px" >eV</text>
</g>
<g fill="#000" stroke="#000" stroke-width="0.25">
<text transform="translate(154.4 232.3) scale(0.96 1)" text-anchor="start" style="font-family:'Liberation Serif',serif;font-size:11.8px" >M</text>
<text transform="translate(163.7 235.5) scale(1.0 1)" text-anchor="start" style="font-family:'Liberation Serif',serif;font-size:7.6px;font-style:italic" stroke-width="0.15">ν</text>
<text transform="translate(168.5 232.3) scale(1.18 1)" text-anchor="start" style="font-family:'Liberation Sans',sans-serif;font-size:10.2px" stroke="none">=0.53</text>
<text transform="translate(206.0 232.3) scale(1.04 1)" text-anchor="start" style="font-family:'Liberation Serif',serif;font-size:11.8px;letter-spacing:-0.1px" >eV</text>
</g>
</svg>
</body></html>
